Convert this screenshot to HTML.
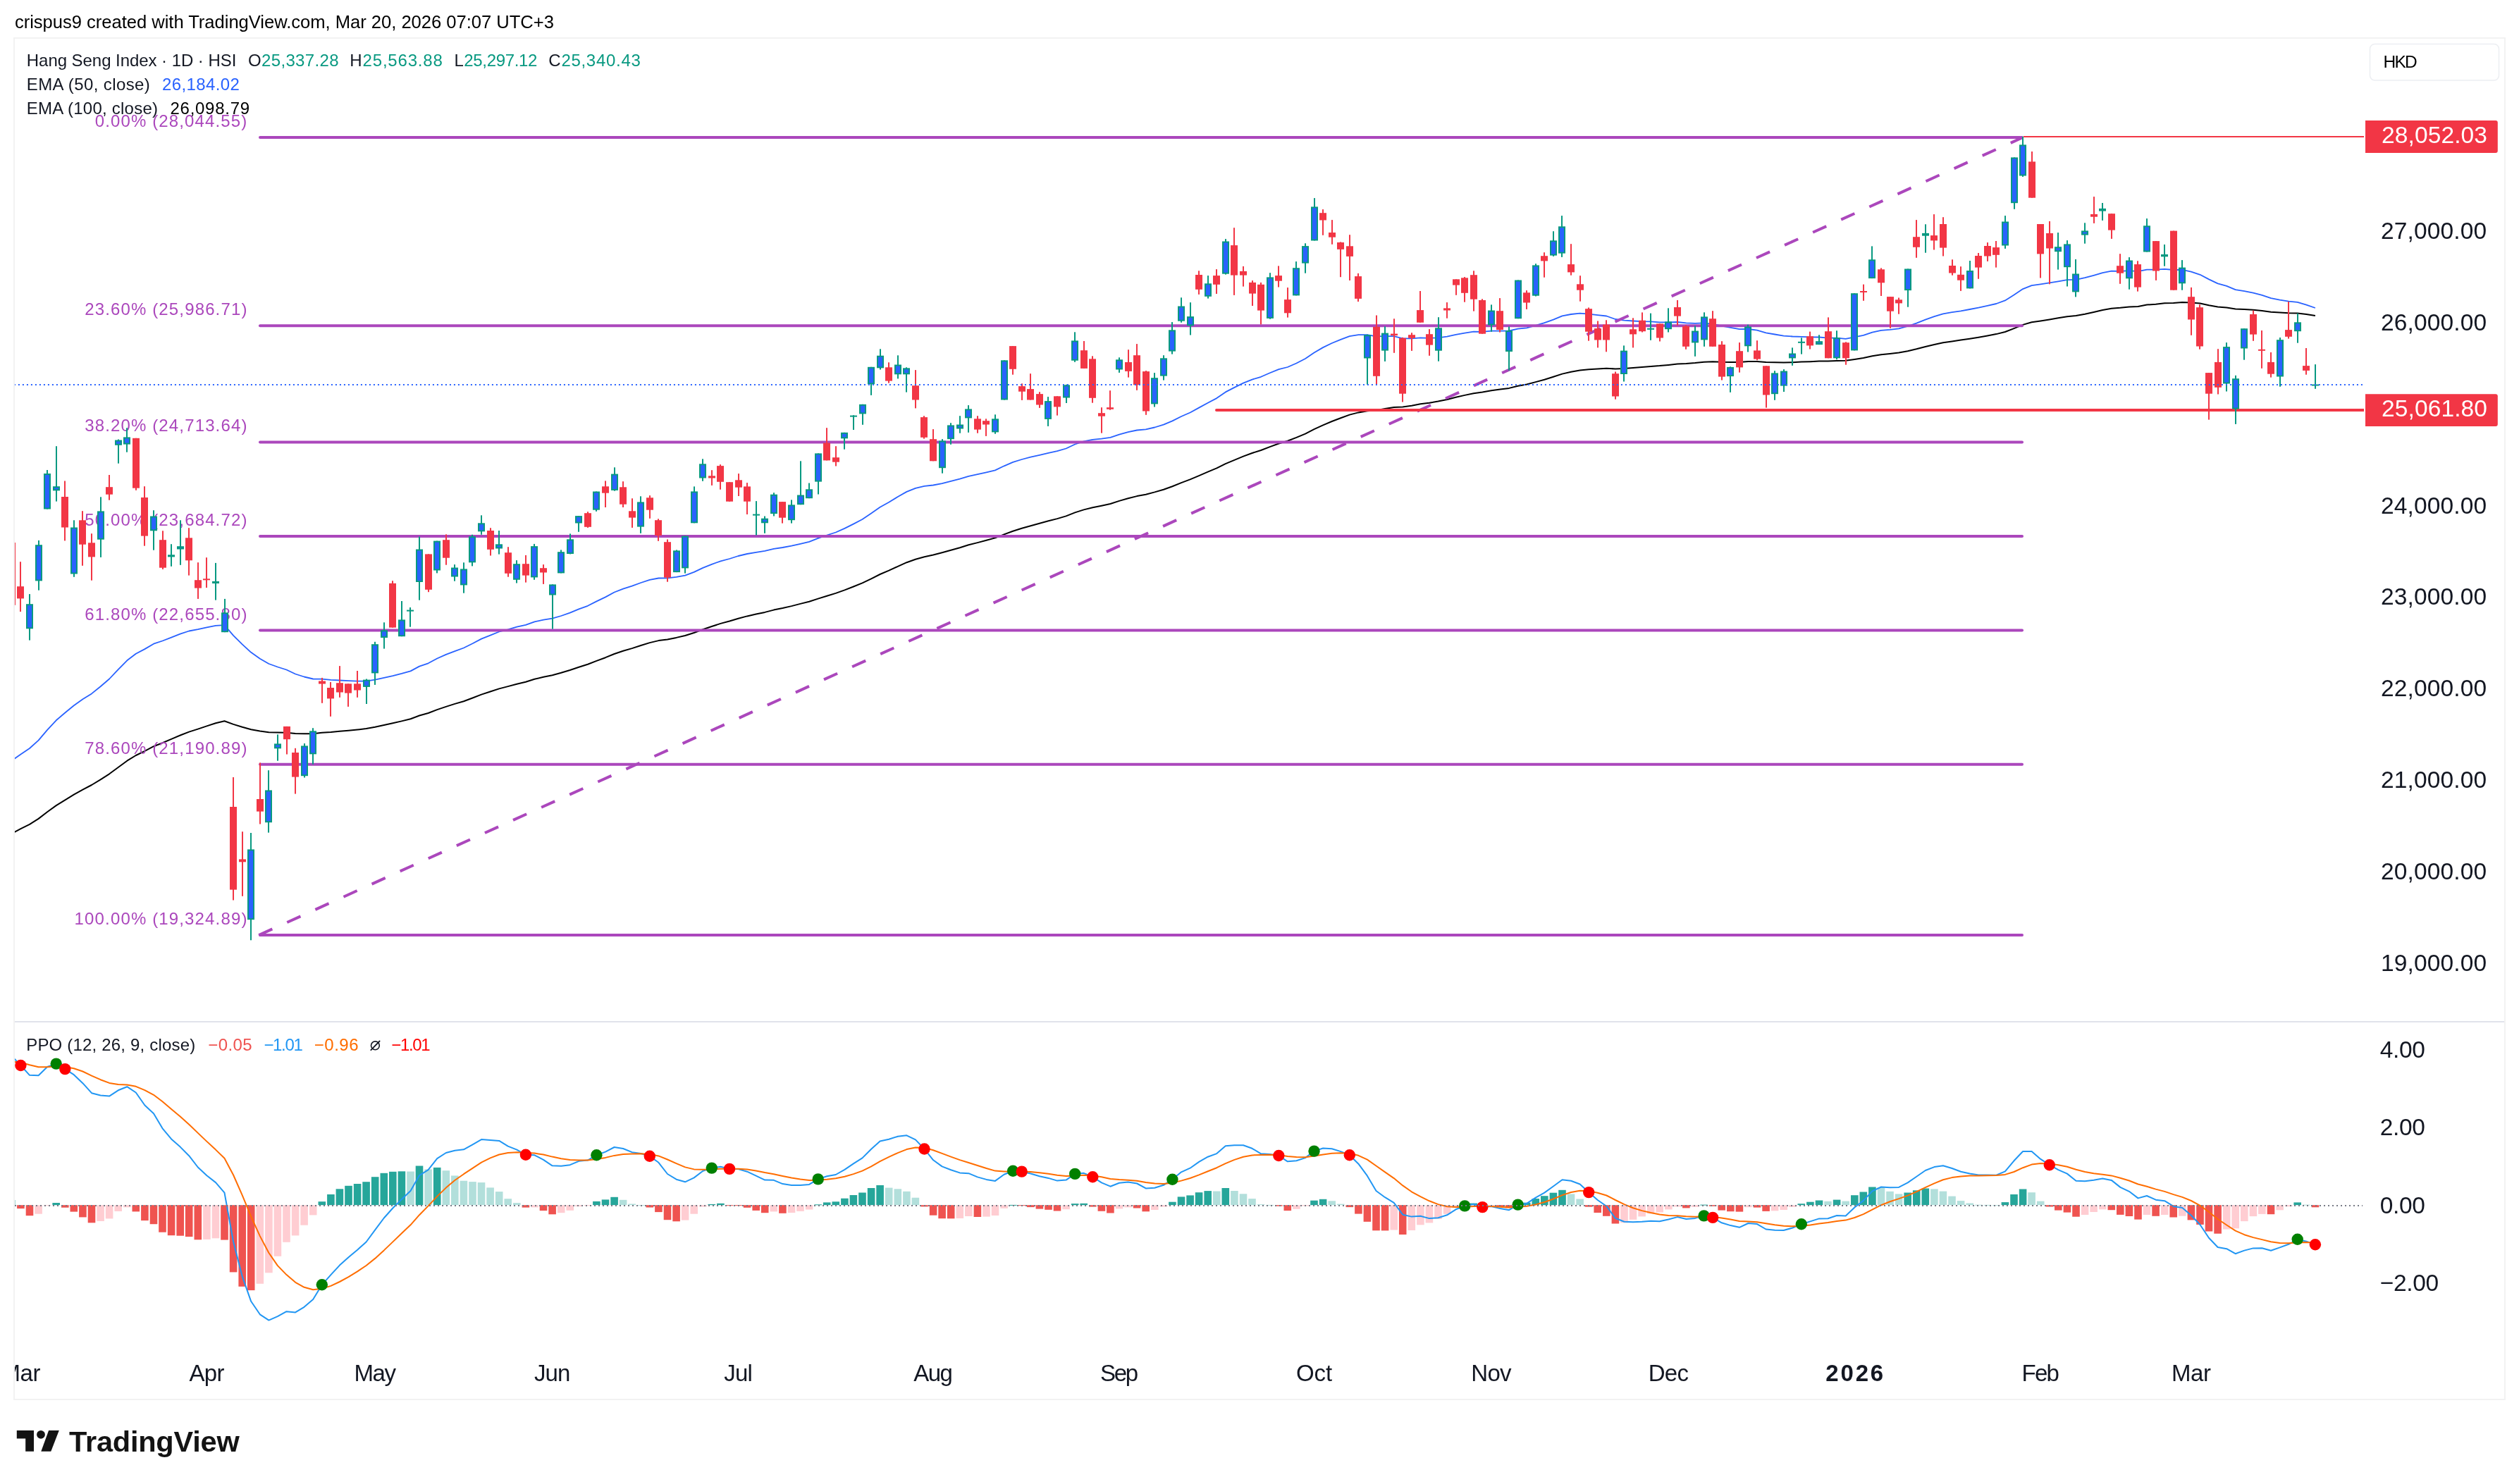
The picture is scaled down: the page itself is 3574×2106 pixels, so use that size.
<!DOCTYPE html>
<html><head><meta charset="utf-8"><style>
html,body{margin:0;padding:0;background:#ffffff;overflow:hidden;}
svg{display:block;font-family:"Liberation Sans",sans-serif;will-change:transform;}
</style></head><body>
<svg width="3574" height="2106" viewBox="0 0 3574 2106">
<rect width="3574" height="2106" fill="#ffffff"/>
<text x="20.9" y="39.9" font-size="25.6" fill="#000000" textLength="765.0" lengthAdjust="spacing">crispus9 created with TradingView.com, Mar 20, 2026 07:07 UTC+3</text>
<rect x="20" y="54" width="3534" height="1932" fill="none" stroke="#f2f2f2" stroke-width="2"/>
<rect x="21" y="1449" width="3532" height="2" fill="#e0e3eb"/>
<defs><clipPath id="cm"><rect x="21" y="55" width="3333" height="1394"/></clipPath><clipPath id="cp"><rect x="21" y="1451" width="3333" height="449"/></clipPath></defs>
<g clip-path="url(#cm)">
<polyline points="16.9,1182.7 29.4,1176.1 42.0,1169.8 54.6,1161.9 67.1,1152.2 79.7,1143.1 92.3,1135.3 104.8,1127.6 117.4,1120.6 130.0,1114.0 142.6,1106.3 155.1,1098.3 167.7,1089.0 180.3,1079.7 192.8,1072.0 205.4,1065.8 218.0,1059.2 230.5,1054.2 243.1,1048.9 255.7,1043.5 268.2,1038.6 280.8,1034.6 293.4,1030.4 306.0,1026.3 318.5,1023.2 331.1,1027.9 343.7,1031.8 356.2,1035.2 368.8,1037.5 381.4,1039.2 393.9,1039.5 406.5,1039.7 419.1,1041.0 431.6,1041.3 444.2,1041.2 456.8,1039.8 469.4,1038.9 481.9,1037.7 494.5,1036.7 507.1,1035.5 519.6,1034.1 532.2,1031.8 544.8,1029.0 557.3,1026.3 569.9,1023.4 582.5,1020.3 595.0,1015.5 607.6,1012.0 620.2,1007.1 632.8,1002.9 645.3,998.9 657.9,995.2 670.5,990.5 683.0,985.6 695.6,981.5 708.2,977.4 720.7,974.1 733.3,970.7 745.9,967.7 758.4,963.8 771.0,960.8 783.6,958.2 796.2,954.8 808.7,951.0 821.3,946.7 833.9,942.7 846.4,937.9 859.0,933.2 871.6,928.0 884.1,923.8 896.7,920.1 909.3,916.0 921.8,912.1 934.4,909.1 947.0,907.4 959.6,904.9 972.1,902.0 984.7,898.0 997.3,893.2 1009.8,889.0 1022.4,884.9 1035.0,881.5 1047.5,877.7 1060.1,874.4 1072.7,871.6 1085.2,868.9 1097.8,865.6 1110.4,863.0 1123.0,860.1 1135.5,856.9 1148.1,853.7 1160.7,849.6 1173.2,845.7 1185.8,841.9 1198.4,837.4 1210.9,832.5 1223.5,827.4 1236.1,821.3 1248.6,815.0 1261.2,809.6 1273.8,803.8 1286.4,798.2 1298.9,793.7 1311.5,790.2 1324.1,787.5 1336.6,784.3 1349.2,780.8 1361.8,777.2 1374.3,773.3 1386.9,770.1 1399.5,766.8 1412.0,763.4 1424.6,758.4 1437.2,753.7 1449.7,749.8 1462.3,746.2 1474.9,742.8 1487.5,739.3 1500.0,736.1 1512.6,732.4 1525.2,727.4 1537.7,723.4 1550.3,720.3 1562.9,717.7 1575.4,715.0 1588.0,710.9 1600.6,707.3 1613.1,704.1 1625.7,701.7 1638.3,698.4 1650.9,694.7 1663.4,690.2 1676.0,685.1 1688.6,680.4 1701.1,675.1 1713.7,669.7 1726.3,664.4 1738.8,658.1 1751.4,652.8 1764.0,647.6 1776.5,643.0 1789.1,639.0 1801.7,634.1 1814.3,629.5 1826.8,625.8 1839.4,620.9 1852.0,615.6 1864.5,609.2 1877.1,603.3 1889.7,598.0 1902.2,593.2 1914.8,588.6 1927.4,585.4 1939.9,583.2 1952.5,582.2 1965.1,580.1 1977.7,578.0 1990.2,577.6 2002.8,575.7 2015.4,573.3 2027.9,571.7 2040.5,569.6 2053.1,567.0 2065.6,563.8 2078.2,560.9 2090.8,558.2 2103.3,556.5 2115.9,554.2 2128.5,552.5 2141.1,550.9 2153.6,547.8 2166.2,545.5 2178.8,542.1 2191.3,538.7 2203.9,534.8 2216.5,530.6 2229.0,527.7 2241.6,525.4 2254.2,524.3 2266.7,523.5 2279.3,522.7 2291.9,523.5 2304.5,523.0 2317.0,522.0 2329.6,521.0 2342.2,519.9 2354.7,519.1 2367.3,517.9 2379.9,516.5 2392.4,516.0 2405.0,515.1 2417.6,513.8 2430.1,513.3 2442.7,513.8 2455.3,513.9 2467.9,514.1 2480.4,513.1 2493.0,513.0 2505.6,513.9 2518.1,514.2 2530.7,514.5 2543.3,514.2 2555.8,513.6 2568.4,513.2 2581.0,512.6 2593.5,512.5 2606.1,511.9 2618.7,511.8 2631.3,509.9 2643.8,508.0 2656.4,505.2 2669.0,503.2 2681.5,502.0 2694.1,500.6 2706.7,498.2 2719.2,495.3 2731.8,492.0 2744.4,489.0 2756.9,486.3 2769.5,484.4 2782.1,482.6 2794.7,480.7 2807.2,478.7 2819.8,476.4 2832.4,474.1 2844.9,471.0 2857.5,466.1 2870.1,460.9 2882.6,457.3 2895.2,455.4 2907.8,453.4 2920.3,451.3 2932.9,449.3 2945.5,448.1 2958.1,445.7 2970.6,442.9 2983.2,440.0 2995.8,437.8 3008.3,436.8 3020.9,435.5 3033.5,434.9 3046.0,432.6 3058.6,431.7 3071.2,430.3 3083.7,429.9 3096.3,428.9 3108.9,429.4 3121.5,430.6 3134.0,433.2 3146.6,435.5 3159.2,436.6 3171.7,438.6 3184.3,439.1 3196.9,439.8 3209.4,441.0 3222.0,442.8 3234.6,443.5 3247.1,444.2 3259.7,444.5 3272.3,446.1 3284.9,448.1" fill="none" stroke="#000000" stroke-width="2" stroke-linejoin="round"/>
<polyline points="16.9,1079.4 29.4,1070.4 42.0,1062.0 54.6,1050.7 67.1,1035.8 79.7,1022.3 92.3,1011.5 104.8,1001.2 117.4,992.3 130.0,984.4 142.6,974.2 155.1,963.5 167.7,950.2 180.3,937.3 192.8,927.7 205.4,921.1 218.0,913.7 230.5,909.5 243.1,904.7 255.7,899.6 268.2,895.5 280.8,893.2 293.4,890.4 306.0,887.8 318.5,887.1 331.1,901.8 343.7,914.4 356.2,925.8 368.8,934.7 381.4,942.0 393.9,946.5 406.5,950.5 419.1,956.5 431.6,960.5 444.2,963.5 456.8,963.7 469.4,964.8 481.9,965.5 494.5,966.2 507.1,966.7 519.6,966.7 532.2,964.6 544.8,961.8 557.3,959.1 569.9,955.9 582.5,952.4 595.0,945.6 607.6,941.3 620.2,934.5 632.8,928.9 645.3,924.1 657.9,919.5 670.5,913.3 683.0,906.6 695.6,901.6 708.2,896.5 720.7,893.3 733.3,889.7 745.9,886.8 758.4,882.4 771.0,879.7 783.6,877.7 796.2,874.0 808.7,869.7 821.3,864.3 833.9,859.8 846.4,853.4 859.0,847.4 871.6,840.5 884.1,835.6 896.7,831.7 909.3,827.0 921.8,822.9 934.4,820.5 947.0,820.4 959.6,818.9 972.1,816.6 984.7,811.9 997.3,805.9 1009.8,800.9 1022.4,796.3 1035.0,793.0 1047.5,789.0 1060.1,786.0 1072.7,783.8 1085.2,781.9 1097.8,778.8 1110.4,777.0 1123.0,774.7 1135.5,771.8 1148.1,768.8 1160.7,763.9 1173.2,759.5 1185.8,755.5 1198.4,749.9 1210.9,743.6 1223.5,737.0 1236.1,728.5 1248.6,719.7 1261.2,712.7 1273.8,705.0 1286.4,697.9 1298.9,692.8 1311.5,689.9 1324.1,688.5 1336.6,686.1 1349.2,682.8 1361.8,679.7 1374.3,675.8 1386.9,673.2 1399.5,670.4 1412.0,667.4 1424.6,661.3 1437.2,655.9 1449.7,652.0 1462.3,648.7 1474.9,645.8 1487.5,642.8 1500.0,640.2 1512.6,636.5 1525.2,630.5 1537.7,626.3 1550.3,623.9 1562.9,622.6 1575.4,620.9 1588.0,616.6 1600.6,613.1 1613.1,610.5 1625.7,609.4 1638.3,606.5 1650.9,602.7 1663.4,597.4 1676.0,591.0 1688.6,585.5 1701.1,578.6 1713.7,571.7 1726.3,565.1 1738.8,556.4 1751.4,549.9 1764.0,543.6 1776.5,538.6 1789.1,534.8 1801.7,529.3 1814.3,524.1 1826.8,521.0 1839.4,515.5 1852.0,509.0 1864.5,500.5 1877.1,493.1 1889.7,487.0 1902.2,481.8 1914.8,477.2 1927.4,475.1 1939.9,475.1 1952.5,477.4 1965.1,477.2 1977.7,477.2 1990.2,480.3 2002.8,480.3 2015.4,479.4 2027.9,479.8 2040.5,479.3 2053.1,477.7 2065.6,474.9 2078.2,472.6 2090.8,470.7 2103.3,470.8 2115.9,469.6 2128.5,469.6 2141.1,469.5 2153.6,466.7 2166.2,465.3 2178.8,461.8 2191.3,458.2 2203.9,453.6 2216.5,448.4 2229.0,446.0 2241.6,444.6 2254.2,445.7 2266.7,447.1 2279.3,448.5 2291.9,453.0 2304.5,454.7 2317.0,455.5 2329.6,456.1 2342.2,456.4 2354.7,457.3 2367.3,457.3 2379.9,457.0 2392.4,458.3 2405.0,458.8 2417.6,458.4 2430.1,459.7 2442.7,462.7 2455.3,464.9 2467.9,467.1 2480.4,467.0 2493.0,468.7 2505.6,472.3 2518.1,474.5 2530.7,476.6 2543.3,477.5 2555.8,477.8 2568.4,478.3 2581.0,478.5 2593.5,479.7 2606.1,479.7 2618.7,480.8 2631.3,478.3 2643.8,475.8 2656.4,471.6 2669.0,468.8 2681.5,467.8 2694.1,466.3 2706.7,463.0 2719.2,458.6 2731.8,453.6 2744.4,449.2 2756.9,445.3 2769.5,443.1 2782.1,441.3 2794.7,439.0 2807.2,436.7 2819.8,433.8 2832.4,431.0 2844.9,426.4 2857.5,418.5 2870.1,410.1 2882.6,405.1 2895.2,403.3 2907.8,401.3 2920.3,399.3 2932.9,397.2 2945.5,396.9 2958.1,394.2 2970.6,390.8 2983.2,387.1 2995.8,384.7 3008.3,384.8 3020.9,384.2 3033.5,385.1 3046.0,382.6 3058.6,382.6 3071.2,381.8 3083.7,383.0 3096.3,382.8 3108.9,385.6 3121.5,389.8 3134.0,396.4 3146.6,402.4 3159.2,405.9 3171.7,411.1 3184.3,413.2 3196.9,415.6 3209.4,418.9 3222.0,423.2 3234.6,425.6 3247.1,427.6 3259.7,428.8 3272.3,432.6 3284.9,437.0" fill="none" stroke="#2962ff" stroke-width="1.8" stroke-linejoin="round"/>
<line x1="369.0" y1="195.0" x2="2869.0" y2="195.0" stroke="#ab47bc" stroke-width="4" stroke-linecap="round"/>
<line x1="369.0" y1="462.2" x2="2869.0" y2="462.2" stroke="#ab47bc" stroke-width="4" stroke-linecap="round"/>
<line x1="369.0" y1="627.4" x2="2869.0" y2="627.4" stroke="#ab47bc" stroke-width="4" stroke-linecap="round"/>
<line x1="369.0" y1="761.0" x2="2869.0" y2="761.0" stroke="#ab47bc" stroke-width="4" stroke-linecap="round"/>
<line x1="369.0" y1="894.6" x2="2869.0" y2="894.6" stroke="#ab47bc" stroke-width="4" stroke-linecap="round"/>
<line x1="369.0" y1="1084.8" x2="2869.0" y2="1084.8" stroke="#ab47bc" stroke-width="4" stroke-linecap="round"/>
<line x1="369.0" y1="1327.1" x2="2869.0" y2="1327.1" stroke="#ab47bc" stroke-width="4" stroke-linecap="round"/>
<line x1="367.2" y1="1327.1" x2="2870.0" y2="195.0" stroke="#ab47bc" stroke-width="4" stroke-dasharray="21 23"/>
<line x1="2871" y1="194" x2="3354" y2="194" stroke="#f23645" stroke-width="2"/>
<line x1="1726" y1="582" x2="3354" y2="582" stroke="#f23645" stroke-width="4" stroke-linecap="round"/>
</g>
<text x="134.7" y="180.0" font-size="24" fill="#ab47bc" textLength="215.6" lengthAdjust="spacing">0.00% (28,044.55)</text>
<text x="120.2" y="447.2" font-size="24" fill="#ab47bc" textLength="230.2" lengthAdjust="spacing">23.60% (25,986.71)</text>
<text x="120.2" y="612.4" font-size="24" fill="#ab47bc" textLength="230.2" lengthAdjust="spacing">38.20% (24,713.64)</text>
<text x="120.2" y="746.0" font-size="24" fill="#ab47bc" textLength="230.2" lengthAdjust="spacing">50.00% (23,684.72)</text>
<text x="120.2" y="879.6" font-size="24" fill="#ab47bc" textLength="230.2" lengthAdjust="spacing">61.80% (22,655.80)</text>
<text x="120.2" y="1069.8" font-size="24" fill="#ab47bc" textLength="230.2" lengthAdjust="spacing">78.60% (21,190.89)</text>
<text x="105.6" y="1312.1" font-size="24" fill="#ab47bc" textLength="244.8" lengthAdjust="spacing">100.00% (19,324.89)</text>
<g clip-path="url(#cm)">
<rect x="16" y="770.0" width="2" height="88.8" fill="#f23645"/>
<rect x="12" y="770.0" width="10" height="88.8" fill="#f23645"/>
<rect x="28" y="797.2" width="2" height="70.9" fill="#f23645"/>
<rect x="24" y="832.2" width="10" height="17.2" fill="#f23645"/>
<rect x="41" y="843.1" width="2" height="65.5" fill="#089981"/>
<rect x="37" y="857.2" width="10" height="35.1" fill="#089981"/>
<rect x="39" y="859.2" width="6" height="31.1" fill="#2962ff"/>
<rect x="54" y="766.9" width="2" height="70.8" fill="#089981"/>
<rect x="50" y="773.2" width="10" height="51.2" fill="#089981"/>
<rect x="52" y="775.2" width="6" height="47.2" fill="#2962ff"/>
<rect x="66" y="667.0" width="2" height="55.5" fill="#089981"/>
<rect x="62" y="672.0" width="10" height="50.5" fill="#089981"/>
<rect x="64" y="674.0" width="6" height="46.5" fill="#2962ff"/>
<rect x="79" y="633.2" width="2" height="78.4" fill="#089981"/>
<rect x="75" y="690.2" width="10" height="6.1" fill="#089981"/>
<rect x="77" y="692.2" width="6" height="2.1" fill="#2962ff"/>
<rect x="91" y="682.5" width="2" height="84.9" fill="#f23645"/>
<rect x="87" y="705.0" width="10" height="43.5" fill="#f23645"/>
<rect x="104" y="738.3" width="2" height="80.5" fill="#089981"/>
<rect x="100" y="748.5" width="10" height="66.0" fill="#089981"/>
<rect x="102" y="750.5" width="6" height="62.0" fill="#2962ff"/>
<rect x="116" y="725.2" width="2" height="77.6" fill="#f23645"/>
<rect x="112" y="738.3" width="10" height="34.4" fill="#f23645"/>
<rect x="129" y="757.2" width="2" height="66.5" fill="#f23645"/>
<rect x="125" y="770.3" width="10" height="20.1" fill="#f23645"/>
<rect x="142" y="705.3" width="2" height="85.6" fill="#089981"/>
<rect x="138" y="725.4" width="10" height="40.3" fill="#089981"/>
<rect x="140" y="727.4" width="6" height="36.3" fill="#2962ff"/>
<rect x="154" y="674.0" width="2" height="35.7" fill="#f23645"/>
<rect x="150" y="691.2" width="10" height="10.5" fill="#f23645"/>
<rect x="167" y="623.5" width="2" height="34.2" fill="#089981"/>
<rect x="163" y="624.5" width="10" height="7.3" fill="#089981"/>
<rect x="165" y="626.5" width="6" height="3.3" fill="#2962ff"/>
<rect x="179" y="607.3" width="2" height="34.4" fill="#089981"/>
<rect x="175" y="620.4" width="10" height="10.2" fill="#089981"/>
<rect x="177" y="622.4" width="6" height="6.2" fill="#2962ff"/>
<rect x="192" y="621.8" width="2" height="74.0" fill="#f23645"/>
<rect x="188" y="621.8" width="10" height="70.9" fill="#f23645"/>
<rect x="204" y="690.2" width="2" height="84.5" fill="#f23645"/>
<rect x="200" y="706.0" width="10" height="54.6" fill="#f23645"/>
<rect x="217" y="724.2" width="2" height="56.5" fill="#089981"/>
<rect x="213" y="732.5" width="10" height="20.8" fill="#089981"/>
<rect x="215" y="734.5" width="6" height="16.8" fill="#2962ff"/>
<rect x="230" y="753.3" width="2" height="54.6" fill="#f23645"/>
<rect x="226" y="766.2" width="10" height="39.5" fill="#f23645"/>
<rect x="242" y="772.2" width="2" height="31.6" fill="#089981"/>
<rect x="238" y="787.3" width="10" height="3.1" fill="#089981"/>
<rect x="255" y="738.3" width="2" height="63.5" fill="#089981"/>
<rect x="251" y="775.2" width="10" height="4.3" fill="#089981"/>
<rect x="253" y="777.2" width="6" height="0.3" fill="#2962ff"/>
<rect x="267" y="749.2" width="2" height="67.4" fill="#f23645"/>
<rect x="263" y="763.3" width="10" height="32.0" fill="#f23645"/>
<rect x="280" y="798.2" width="2" height="51.7" fill="#f23645"/>
<rect x="276" y="823.2" width="10" height="11.4" fill="#f23645"/>
<rect x="292" y="791.2" width="2" height="42.9" fill="#f23645"/>
<rect x="288" y="821.3" width="10" height="2.0" fill="#f23645"/>
<rect x="305" y="798.9" width="2" height="52.7" fill="#089981"/>
<rect x="301" y="824.9" width="10" height="3.1" fill="#089981"/>
<rect x="318" y="849.9" width="2" height="47.3" fill="#089981"/>
<rect x="314" y="869.3" width="10" height="27.9" fill="#089981"/>
<rect x="316" y="871.3" width="6" height="23.9" fill="#2962ff"/>
<rect x="330" y="1103.0" width="2" height="174.5" fill="#f23645"/>
<rect x="326" y="1145.0" width="10" height="117.6" fill="#f23645"/>
<rect x="343" y="1180.2" width="2" height="91.6" fill="#f23645"/>
<rect x="339" y="1219.4" width="10" height="3.9" fill="#f23645"/>
<rect x="355" y="1182.0" width="2" height="152.3" fill="#089981"/>
<rect x="351" y="1205.4" width="10" height="99.8" fill="#089981"/>
<rect x="353" y="1207.4" width="6" height="95.8" fill="#2962ff"/>
<rect x="368" y="1082.4" width="2" height="87.1" fill="#f23645"/>
<rect x="364" y="1134.0" width="10" height="17.6" fill="#f23645"/>
<rect x="380" y="1093.2" width="2" height="88.4" fill="#089981"/>
<rect x="376" y="1121.4" width="10" height="45.8" fill="#089981"/>
<rect x="378" y="1123.4" width="6" height="41.8" fill="#2962ff"/>
<rect x="393" y="1042.4" width="2" height="37.3" fill="#089981"/>
<rect x="389" y="1055.4" width="10" height="6.9" fill="#089981"/>
<rect x="391" y="1057.4" width="6" height="2.9" fill="#2962ff"/>
<rect x="406" y="1030.9" width="2" height="39.6" fill="#f23645"/>
<rect x="402" y="1030.9" width="10" height="18.3" fill="#f23645"/>
<rect x="418" y="1061.8" width="2" height="64.8" fill="#f23645"/>
<rect x="414" y="1068.0" width="10" height="34.6" fill="#f23645"/>
<rect x="431" y="1055.0" width="2" height="48.5" fill="#089981"/>
<rect x="427" y="1058.4" width="10" height="42.8" fill="#089981"/>
<rect x="429" y="1060.4" width="6" height="38.8" fill="#2962ff"/>
<rect x="443" y="1033.2" width="2" height="51.5" fill="#089981"/>
<rect x="439" y="1037.3" width="10" height="33.0" fill="#089981"/>
<rect x="441" y="1039.3" width="6" height="29.0" fill="#2962ff"/>
<rect x="456" y="961.9" width="2" height="35.9" fill="#f23645"/>
<rect x="452" y="966.5" width="10" height="4.0" fill="#f23645"/>
<rect x="468" y="968.0" width="2" height="48.8" fill="#f23645"/>
<rect x="464" y="976.0" width="10" height="15.4" fill="#f23645"/>
<rect x="481" y="945.1" width="2" height="44.7" fill="#f23645"/>
<rect x="477" y="969.2" width="10" height="13.3" fill="#f23645"/>
<rect x="493" y="970.3" width="2" height="32.6" fill="#f23645"/>
<rect x="489" y="970.3" width="10" height="13.3" fill="#f23645"/>
<rect x="506" y="952.0" width="2" height="37.8" fill="#f23645"/>
<rect x="502" y="970.3" width="10" height="9.2" fill="#f23645"/>
<rect x="519" y="963.5" width="2" height="35.5" fill="#089981"/>
<rect x="515" y="964.6" width="10" height="10.3" fill="#089981"/>
<rect x="517" y="966.6" width="6" height="6.3" fill="#2962ff"/>
<rect x="531" y="910.8" width="2" height="61.1" fill="#089981"/>
<rect x="527" y="914.2" width="10" height="41.2" fill="#089981"/>
<rect x="529" y="916.2" width="6" height="37.2" fill="#2962ff"/>
<rect x="544" y="883.3" width="2" height="37.3" fill="#089981"/>
<rect x="540" y="894.3" width="10" height="10.7" fill="#089981"/>
<rect x="542" y="896.3" width="6" height="6.7" fill="#2962ff"/>
<rect x="556" y="824.2" width="2" height="66.4" fill="#f23645"/>
<rect x="552" y="827.8" width="10" height="62.8" fill="#f23645"/>
<rect x="569" y="853.0" width="2" height="50.2" fill="#089981"/>
<rect x="565" y="879.4" width="10" height="23.8" fill="#089981"/>
<rect x="567" y="881.4" width="6" height="19.8" fill="#2962ff"/>
<rect x="581" y="862.0" width="2" height="27.7" fill="#089981"/>
<rect x="577" y="865.6" width="10" height="2.0" fill="#089981"/>
<rect x="594" y="761.4" width="2" height="90.3" fill="#089981"/>
<rect x="590" y="779.5" width="10" height="46.5" fill="#089981"/>
<rect x="592" y="781.5" width="6" height="42.5" fill="#2962ff"/>
<rect x="607" y="786.4" width="2" height="53.8" fill="#f23645"/>
<rect x="603" y="786.4" width="10" height="50.4" fill="#f23645"/>
<rect x="619" y="767.6" width="2" height="45.8" fill="#089981"/>
<rect x="615" y="767.6" width="10" height="41.9" fill="#089981"/>
<rect x="617" y="769.6" width="6" height="37.9" fill="#2962ff"/>
<rect x="632" y="758.3" width="2" height="43.4" fill="#f23645"/>
<rect x="628" y="766.2" width="10" height="25.5" fill="#f23645"/>
<rect x="644" y="801.1" width="2" height="23.6" fill="#089981"/>
<rect x="640" y="805.5" width="10" height="13.0" fill="#089981"/>
<rect x="642" y="807.5" width="6" height="9.0" fill="#2962ff"/>
<rect x="657" y="798.3" width="2" height="43.4" fill="#089981"/>
<rect x="653" y="807.4" width="10" height="23.0" fill="#089981"/>
<rect x="655" y="809.4" width="6" height="19.0" fill="#2962ff"/>
<rect x="669" y="758.7" width="2" height="44.7" fill="#089981"/>
<rect x="665" y="761.1" width="10" height="37.2" fill="#089981"/>
<rect x="667" y="763.1" width="6" height="33.2" fill="#2962ff"/>
<rect x="682" y="731.3" width="2" height="27.4" fill="#089981"/>
<rect x="678" y="742.3" width="10" height="12.0" fill="#089981"/>
<rect x="680" y="744.3" width="6" height="8.0" fill="#2962ff"/>
<rect x="695" y="749.2" width="2" height="39.3" fill="#f23645"/>
<rect x="691" y="753.0" width="10" height="26.8" fill="#f23645"/>
<rect x="707" y="753.0" width="2" height="33.6" fill="#089981"/>
<rect x="703" y="772.3" width="10" height="6.2" fill="#089981"/>
<rect x="705" y="774.3" width="6" height="2.2" fill="#2962ff"/>
<rect x="720" y="776.2" width="2" height="42.5" fill="#f23645"/>
<rect x="716" y="784.2" width="10" height="29.6" fill="#f23645"/>
<rect x="732" y="795.1" width="2" height="32.4" fill="#089981"/>
<rect x="728" y="800.2" width="10" height="22.6" fill="#089981"/>
<rect x="730" y="802.2" width="6" height="18.6" fill="#2962ff"/>
<rect x="745" y="787.9" width="2" height="38.7" fill="#f23645"/>
<rect x="741" y="800.2" width="10" height="16.4" fill="#f23645"/>
<rect x="757" y="771.9" width="2" height="50.9" fill="#089981"/>
<rect x="753" y="775.1" width="10" height="44.3" fill="#089981"/>
<rect x="755" y="777.1" width="6" height="40.3" fill="#2962ff"/>
<rect x="770" y="801.1" width="2" height="27.8" fill="#f23645"/>
<rect x="766" y="806.2" width="10" height="6.3" fill="#f23645"/>
<rect x="783" y="829.4" width="2" height="63.2" fill="#089981"/>
<rect x="779" y="829.4" width="10" height="15.1" fill="#089981"/>
<rect x="781" y="831.4" width="6" height="11.1" fill="#2962ff"/>
<rect x="795" y="780.4" width="2" height="33.0" fill="#089981"/>
<rect x="791" y="783.2" width="10" height="30.2" fill="#089981"/>
<rect x="793" y="785.2" width="6" height="26.2" fill="#2962ff"/>
<rect x="808" y="757.4" width="2" height="29.0" fill="#089981"/>
<rect x="804" y="765.3" width="10" height="20.7" fill="#089981"/>
<rect x="806" y="767.3" width="6" height="16.7" fill="#2962ff"/>
<rect x="820" y="732.1" width="2" height="22.7" fill="#089981"/>
<rect x="816" y="732.1" width="10" height="10.4" fill="#089981"/>
<rect x="818" y="734.1" width="6" height="6.4" fill="#2962ff"/>
<rect x="833" y="726.2" width="2" height="22.7" fill="#f23645"/>
<rect x="829" y="728.2" width="10" height="19.6" fill="#f23645"/>
<rect x="845" y="697.5" width="2" height="28.3" fill="#089981"/>
<rect x="841" y="697.5" width="10" height="26.2" fill="#089981"/>
<rect x="843" y="699.5" width="6" height="22.2" fill="#2962ff"/>
<rect x="858" y="682.4" width="2" height="37.6" fill="#f23645"/>
<rect x="854" y="690.3" width="10" height="9.4" fill="#f23645"/>
<rect x="871" y="663.3" width="2" height="33.4" fill="#089981"/>
<rect x="867" y="672.6" width="10" height="23.3" fill="#089981"/>
<rect x="869" y="674.6" width="6" height="19.3" fill="#2962ff"/>
<rect x="883" y="683.2" width="2" height="36.8" fill="#f23645"/>
<rect x="879" y="691.3" width="10" height="24.4" fill="#f23645"/>
<rect x="896" y="707.3" width="2" height="41.6" fill="#f23645"/>
<rect x="892" y="725.3" width="10" height="9.3" fill="#f23645"/>
<rect x="908" y="704.3" width="2" height="52.5" fill="#089981"/>
<rect x="904" y="712.4" width="10" height="35.2" fill="#089981"/>
<rect x="906" y="714.4" width="6" height="31.2" fill="#2962ff"/>
<rect x="921" y="703.1" width="2" height="32.7" fill="#f23645"/>
<rect x="917" y="706.3" width="10" height="17.4" fill="#f23645"/>
<rect x="933" y="736.3" width="2" height="31.5" fill="#f23645"/>
<rect x="929" y="738.2" width="10" height="21.8" fill="#f23645"/>
<rect x="946" y="765.5" width="2" height="60.2" fill="#f23645"/>
<rect x="942" y="769.2" width="10" height="50.4" fill="#f23645"/>
<rect x="959" y="780.4" width="2" height="31.7" fill="#089981"/>
<rect x="955" y="781.3" width="10" height="30.8" fill="#089981"/>
<rect x="957" y="783.3" width="6" height="26.8" fill="#2962ff"/>
<rect x="971" y="760.6" width="2" height="53.0" fill="#089981"/>
<rect x="967" y="760.6" width="10" height="45.8" fill="#089981"/>
<rect x="969" y="762.6" width="6" height="41.8" fill="#2962ff"/>
<rect x="984" y="690.4" width="2" height="51.9" fill="#089981"/>
<rect x="980" y="697.4" width="10" height="44.9" fill="#089981"/>
<rect x="982" y="699.4" width="6" height="40.9" fill="#2962ff"/>
<rect x="996" y="651.3" width="2" height="31.5" fill="#089981"/>
<rect x="992" y="658.3" width="10" height="20.2" fill="#089981"/>
<rect x="994" y="660.3" width="6" height="16.2" fill="#2962ff"/>
<rect x="1009" y="667.2" width="2" height="21.7" fill="#f23645"/>
<rect x="1005" y="675.3" width="10" height="3.2" fill="#f23645"/>
<rect x="1021" y="659.2" width="2" height="35.5" fill="#f23645"/>
<rect x="1017" y="661.1" width="10" height="22.7" fill="#f23645"/>
<rect x="1034" y="684.2" width="2" height="27.5" fill="#f23645"/>
<rect x="1030" y="684.2" width="10" height="27.5" fill="#f23645"/>
<rect x="1047" y="672.1" width="2" height="31.9" fill="#f23645"/>
<rect x="1043" y="681.3" width="10" height="10.4" fill="#f23645"/>
<rect x="1059" y="685.1" width="2" height="44.9" fill="#f23645"/>
<rect x="1055" y="690.4" width="10" height="21.3" fill="#f23645"/>
<rect x="1072" y="711.1" width="2" height="48.5" fill="#089981"/>
<rect x="1068" y="729.6" width="10" height="2.0" fill="#089981"/>
<rect x="1084" y="732.5" width="2" height="24.3" fill="#089981"/>
<rect x="1080" y="735.7" width="10" height="6.6" fill="#089981"/>
<rect x="1082" y="737.7" width="6" height="2.6" fill="#2962ff"/>
<rect x="1097" y="699.2" width="2" height="33.3" fill="#089981"/>
<rect x="1093" y="701.7" width="10" height="27.4" fill="#089981"/>
<rect x="1095" y="703.7" width="6" height="23.4" fill="#2962ff"/>
<rect x="1109" y="712.1" width="2" height="30.5" fill="#f23645"/>
<rect x="1105" y="712.1" width="10" height="22.6" fill="#f23645"/>
<rect x="1122" y="709.4" width="2" height="33.2" fill="#089981"/>
<rect x="1118" y="716.4" width="10" height="21.8" fill="#089981"/>
<rect x="1120" y="718.4" width="6" height="17.8" fill="#2962ff"/>
<rect x="1135" y="654.3" width="2" height="61.9" fill="#089981"/>
<rect x="1131" y="702.5" width="10" height="13.7" fill="#089981"/>
<rect x="1133" y="704.5" width="6" height="9.7" fill="#2962ff"/>
<rect x="1147" y="685.5" width="2" height="21.7" fill="#089981"/>
<rect x="1143" y="694.3" width="10" height="12.9" fill="#089981"/>
<rect x="1145" y="696.3" width="6" height="8.9" fill="#2962ff"/>
<rect x="1160" y="643.4" width="2" height="58.1" fill="#089981"/>
<rect x="1156" y="643.4" width="10" height="40.2" fill="#089981"/>
<rect x="1158" y="645.4" width="6" height="36.2" fill="#2962ff"/>
<rect x="1172" y="607.2" width="2" height="46.2" fill="#f23645"/>
<rect x="1168" y="628.5" width="10" height="24.9" fill="#f23645"/>
<rect x="1185" y="633.2" width="2" height="28.3" fill="#f23645"/>
<rect x="1181" y="649.2" width="10" height="6.5" fill="#f23645"/>
<rect x="1197" y="613.8" width="2" height="23.9" fill="#089981"/>
<rect x="1193" y="613.8" width="10" height="8.5" fill="#089981"/>
<rect x="1195" y="615.8" width="6" height="4.5" fill="#2962ff"/>
<rect x="1210" y="589.2" width="2" height="20.8" fill="#089981"/>
<rect x="1206" y="589.6" width="10" height="2.0" fill="#089981"/>
<rect x="1223" y="573.8" width="2" height="29.0" fill="#089981"/>
<rect x="1219" y="573.8" width="10" height="13.6" fill="#089981"/>
<rect x="1221" y="575.8" width="6" height="9.6" fill="#2962ff"/>
<rect x="1235" y="520.8" width="2" height="40.1" fill="#089981"/>
<rect x="1231" y="520.8" width="10" height="24.5" fill="#089981"/>
<rect x="1233" y="522.8" width="6" height="20.5" fill="#2962ff"/>
<rect x="1248" y="495.3" width="2" height="29.2" fill="#089981"/>
<rect x="1244" y="504.7" width="10" height="17.6" fill="#089981"/>
<rect x="1246" y="506.7" width="6" height="13.6" fill="#2962ff"/>
<rect x="1260" y="514.3" width="2" height="29.3" fill="#f23645"/>
<rect x="1256" y="521.3" width="10" height="19.3" fill="#f23645"/>
<rect x="1273" y="504.3" width="2" height="33.1" fill="#089981"/>
<rect x="1269" y="517.5" width="10" height="13.8" fill="#089981"/>
<rect x="1271" y="519.5" width="6" height="9.8" fill="#2962ff"/>
<rect x="1285" y="521.3" width="2" height="35.3" fill="#089981"/>
<rect x="1281" y="522.3" width="10" height="9.0" fill="#089981"/>
<rect x="1283" y="524.3" width="6" height="5.0" fill="#2962ff"/>
<rect x="1298" y="525.1" width="2" height="54.3" fill="#f23645"/>
<rect x="1294" y="547.2" width="10" height="20.3" fill="#f23645"/>
<rect x="1310" y="590.2" width="2" height="32.4" fill="#f23645"/>
<rect x="1306" y="592.1" width="10" height="28.7" fill="#f23645"/>
<rect x="1323" y="609.1" width="2" height="45.2" fill="#f23645"/>
<rect x="1319" y="623.2" width="10" height="31.1" fill="#f23645"/>
<rect x="1336" y="623.2" width="2" height="48.5" fill="#089981"/>
<rect x="1332" y="625.5" width="10" height="38.7" fill="#089981"/>
<rect x="1334" y="627.5" width="6" height="34.7" fill="#2962ff"/>
<rect x="1348" y="600.2" width="2" height="30.6" fill="#089981"/>
<rect x="1344" y="603.4" width="10" height="19.8" fill="#089981"/>
<rect x="1346" y="605.4" width="6" height="15.8" fill="#2962ff"/>
<rect x="1361" y="590.2" width="2" height="24.5" fill="#089981"/>
<rect x="1357" y="602.5" width="10" height="6.0" fill="#089981"/>
<rect x="1359" y="604.5" width="6" height="2.0" fill="#2962ff"/>
<rect x="1373" y="575.1" width="2" height="38.7" fill="#089981"/>
<rect x="1369" y="580.4" width="10" height="13.0" fill="#089981"/>
<rect x="1371" y="582.4" width="6" height="9.0" fill="#2962ff"/>
<rect x="1386" y="590.2" width="2" height="24.5" fill="#f23645"/>
<rect x="1382" y="594.3" width="10" height="15.3" fill="#f23645"/>
<rect x="1398" y="594.3" width="2" height="24.6" fill="#f23645"/>
<rect x="1394" y="597.2" width="10" height="5.3" fill="#f23645"/>
<rect x="1411" y="588.3" width="2" height="27.4" fill="#089981"/>
<rect x="1407" y="594.3" width="10" height="19.1" fill="#089981"/>
<rect x="1409" y="596.3" width="6" height="15.1" fill="#2962ff"/>
<rect x="1424" y="511.3" width="2" height="56.2" fill="#089981"/>
<rect x="1420" y="511.3" width="10" height="56.2" fill="#089981"/>
<rect x="1422" y="513.3" width="6" height="52.2" fill="#2962ff"/>
<rect x="1436" y="491.1" width="2" height="40.6" fill="#f23645"/>
<rect x="1432" y="491.1" width="10" height="32.7" fill="#f23645"/>
<rect x="1449" y="544.3" width="2" height="23.6" fill="#f23645"/>
<rect x="1445" y="548.1" width="10" height="7.6" fill="#f23645"/>
<rect x="1461" y="530.2" width="2" height="37.3" fill="#f23645"/>
<rect x="1457" y="552.1" width="10" height="15.4" fill="#f23645"/>
<rect x="1474" y="556.2" width="2" height="22.7" fill="#f23645"/>
<rect x="1470" y="559.1" width="10" height="15.4" fill="#f23645"/>
<rect x="1486" y="563.1" width="2" height="41.8" fill="#089981"/>
<rect x="1482" y="569.1" width="10" height="25.8" fill="#089981"/>
<rect x="1484" y="571.1" width="6" height="21.8" fill="#2962ff"/>
<rect x="1499" y="562.3" width="2" height="27.3" fill="#f23645"/>
<rect x="1495" y="562.3" width="10" height="15.1" fill="#f23645"/>
<rect x="1512" y="545.7" width="2" height="26.3" fill="#089981"/>
<rect x="1508" y="546.3" width="10" height="18.2" fill="#089981"/>
<rect x="1510" y="548.3" width="6" height="14.2" fill="#2962ff"/>
<rect x="1524" y="471.3" width="2" height="42.5" fill="#089981"/>
<rect x="1520" y="483.4" width="10" height="28.3" fill="#089981"/>
<rect x="1522" y="485.4" width="6" height="24.3" fill="#2962ff"/>
<rect x="1537" y="484.0" width="2" height="38.9" fill="#f23645"/>
<rect x="1533" y="497.2" width="10" height="25.7" fill="#f23645"/>
<rect x="1549" y="505.3" width="2" height="66.4" fill="#f23645"/>
<rect x="1545" y="509.3" width="10" height="55.5" fill="#f23645"/>
<rect x="1562" y="578.2" width="2" height="36.4" fill="#f23645"/>
<rect x="1558" y="586.2" width="10" height="4.5" fill="#f23645"/>
<rect x="1574" y="554.2" width="2" height="27.6" fill="#f23645"/>
<rect x="1570" y="578.2" width="10" height="2.6" fill="#f23645"/>
<rect x="1587" y="507.3" width="2" height="21.6" fill="#089981"/>
<rect x="1583" y="510.3" width="10" height="14.2" fill="#089981"/>
<rect x="1585" y="512.3" width="6" height="10.2" fill="#2962ff"/>
<rect x="1600" y="496.2" width="2" height="39.4" fill="#f23645"/>
<rect x="1596" y="514.0" width="10" height="12.9" fill="#f23645"/>
<rect x="1612" y="488.1" width="2" height="65.7" fill="#f23645"/>
<rect x="1608" y="504.2" width="10" height="42.1" fill="#f23645"/>
<rect x="1625" y="526.1" width="2" height="62.7" fill="#f23645"/>
<rect x="1621" y="527.1" width="10" height="56.4" fill="#f23645"/>
<rect x="1637" y="529.1" width="2" height="48.4" fill="#089981"/>
<rect x="1633" y="536.2" width="10" height="37.2" fill="#089981"/>
<rect x="1635" y="538.2" width="6" height="33.2" fill="#2962ff"/>
<rect x="1650" y="504.2" width="2" height="35.4" fill="#089981"/>
<rect x="1646" y="508.3" width="10" height="25.3" fill="#089981"/>
<rect x="1648" y="510.3" width="6" height="21.3" fill="#2962ff"/>
<rect x="1662" y="457.1" width="2" height="45.5" fill="#089981"/>
<rect x="1658" y="468.3" width="10" height="30.3" fill="#089981"/>
<rect x="1660" y="470.3" width="6" height="26.3" fill="#2962ff"/>
<rect x="1675" y="422.3" width="2" height="35.4" fill="#089981"/>
<rect x="1671" y="434.5" width="10" height="21.2" fill="#089981"/>
<rect x="1673" y="436.5" width="6" height="17.2" fill="#2962ff"/>
<rect x="1688" y="429.2" width="2" height="46.3" fill="#089981"/>
<rect x="1684" y="449.1" width="10" height="13.2" fill="#089981"/>
<rect x="1686" y="451.1" width="6" height="9.2" fill="#2962ff"/>
<rect x="1700" y="384.3" width="2" height="33.6" fill="#f23645"/>
<rect x="1696" y="390.0" width="10" height="20.8" fill="#f23645"/>
<rect x="1713" y="391.1" width="2" height="32.5" fill="#089981"/>
<rect x="1709" y="402.3" width="10" height="18.5" fill="#089981"/>
<rect x="1711" y="404.3" width="6" height="14.5" fill="#2962ff"/>
<rect x="1725" y="382.1" width="2" height="34.9" fill="#f23645"/>
<rect x="1721" y="391.1" width="10" height="12.7" fill="#f23645"/>
<rect x="1738" y="339.1" width="2" height="50.5" fill="#089981"/>
<rect x="1734" y="342.5" width="10" height="46.2" fill="#089981"/>
<rect x="1736" y="344.5" width="6" height="42.2" fill="#2962ff"/>
<rect x="1750" y="323.2" width="2" height="95.7" fill="#f23645"/>
<rect x="1746" y="348.1" width="10" height="42.5" fill="#f23645"/>
<rect x="1763" y="377.9" width="2" height="28.7" fill="#f23645"/>
<rect x="1759" y="384.9" width="10" height="5.7" fill="#f23645"/>
<rect x="1776" y="398.1" width="2" height="35.9" fill="#f23645"/>
<rect x="1772" y="400.9" width="10" height="15.7" fill="#f23645"/>
<rect x="1788" y="400.9" width="2" height="59.5" fill="#f23645"/>
<rect x="1784" y="403.8" width="10" height="36.8" fill="#f23645"/>
<rect x="1801" y="387.2" width="2" height="65.6" fill="#089981"/>
<rect x="1797" y="393.4" width="10" height="58.5" fill="#089981"/>
<rect x="1799" y="395.4" width="6" height="54.5" fill="#2962ff"/>
<rect x="1813" y="377.4" width="2" height="30.1" fill="#f23645"/>
<rect x="1809" y="391.1" width="10" height="7.6" fill="#f23645"/>
<rect x="1826" y="408.1" width="2" height="42.5" fill="#f23645"/>
<rect x="1822" y="425.1" width="10" height="19.2" fill="#f23645"/>
<rect x="1838" y="371.1" width="2" height="48.3" fill="#089981"/>
<rect x="1834" y="380.2" width="10" height="39.2" fill="#089981"/>
<rect x="1836" y="382.2" width="6" height="35.2" fill="#2962ff"/>
<rect x="1851" y="345.3" width="2" height="42.4" fill="#089981"/>
<rect x="1847" y="349.1" width="10" height="24.5" fill="#089981"/>
<rect x="1849" y="351.1" width="6" height="20.5" fill="#2962ff"/>
<rect x="1864" y="281.1" width="2" height="60.4" fill="#089981"/>
<rect x="1860" y="293.4" width="10" height="48.1" fill="#089981"/>
<rect x="1862" y="295.4" width="6" height="44.1" fill="#2962ff"/>
<rect x="1876" y="297.1" width="2" height="36.7" fill="#f23645"/>
<rect x="1872" y="302.2" width="10" height="10.3" fill="#f23645"/>
<rect x="1889" y="312.1" width="2" height="34.7" fill="#f23645"/>
<rect x="1885" y="330.0" width="10" height="6.7" fill="#f23645"/>
<rect x="1901" y="343.4" width="2" height="49.8" fill="#f23645"/>
<rect x="1897" y="344.0" width="10" height="9.9" fill="#f23645"/>
<rect x="1914" y="333.2" width="2" height="64.8" fill="#f23645"/>
<rect x="1910" y="349.3" width="10" height="14.6" fill="#f23645"/>
<rect x="1926" y="387.9" width="2" height="40.2" fill="#f23645"/>
<rect x="1922" y="392.1" width="10" height="31.8" fill="#f23645"/>
<rect x="1939" y="474.7" width="2" height="71.0" fill="#089981"/>
<rect x="1935" y="475.3" width="10" height="33.2" fill="#089981"/>
<rect x="1937" y="477.3" width="6" height="29.2" fill="#2962ff"/>
<rect x="1952" y="447.5" width="2" height="98.2" fill="#f23645"/>
<rect x="1948" y="463.8" width="10" height="70.0" fill="#f23645"/>
<rect x="1964" y="463.2" width="2" height="49.7" fill="#089981"/>
<rect x="1960" y="472.6" width="10" height="25.0" fill="#089981"/>
<rect x="1962" y="474.6" width="6" height="21.0" fill="#2962ff"/>
<rect x="1977" y="452.3" width="2" height="48.5" fill="#f23645"/>
<rect x="1973" y="473.6" width="10" height="2.5" fill="#f23645"/>
<rect x="1989" y="478.8" width="2" height="91.7" fill="#f23645"/>
<rect x="1985" y="479.7" width="10" height="79.0" fill="#f23645"/>
<rect x="2002" y="472.2" width="2" height="25.7" fill="#f23645"/>
<rect x="1998" y="475.2" width="10" height="4.6" fill="#f23645"/>
<rect x="2014" y="413.0" width="2" height="44.7" fill="#f23645"/>
<rect x="2010" y="440.1" width="10" height="17.6" fill="#f23645"/>
<rect x="2027" y="467.1" width="2" height="37.7" fill="#f23645"/>
<rect x="2023" y="474.2" width="10" height="15.4" fill="#f23645"/>
<rect x="2040" y="450.2" width="2" height="62.5" fill="#089981"/>
<rect x="2036" y="465.3" width="10" height="32.4" fill="#089981"/>
<rect x="2038" y="467.3" width="6" height="28.4" fill="#2962ff"/>
<rect x="2052" y="429.1" width="2" height="22.6" fill="#f23645"/>
<rect x="2048" y="437.4" width="10" height="3.1" fill="#f23645"/>
<rect x="2065" y="396.3" width="2" height="22.5" fill="#f23645"/>
<rect x="2061" y="396.3" width="10" height="8.3" fill="#f23645"/>
<rect x="2077" y="393.1" width="2" height="35.6" fill="#f23645"/>
<rect x="2073" y="394.3" width="10" height="21.5" fill="#f23645"/>
<rect x="2090" y="384.3" width="2" height="57.3" fill="#f23645"/>
<rect x="2086" y="390.2" width="10" height="34.5" fill="#f23645"/>
<rect x="2102" y="424.3" width="2" height="49.4" fill="#f23645"/>
<rect x="2098" y="426.0" width="10" height="47.7" fill="#f23645"/>
<rect x="2115" y="432.4" width="2" height="38.4" fill="#089981"/>
<rect x="2111" y="440.5" width="10" height="20.9" fill="#089981"/>
<rect x="2113" y="442.5" width="6" height="16.9" fill="#2962ff"/>
<rect x="2127" y="423.1" width="2" height="48.5" fill="#f23645"/>
<rect x="2123" y="441.2" width="10" height="26.8" fill="#f23645"/>
<rect x="2140" y="463.5" width="2" height="62.2" fill="#089981"/>
<rect x="2136" y="469.1" width="10" height="29.9" fill="#089981"/>
<rect x="2138" y="471.1" width="6" height="25.9" fill="#2962ff"/>
<rect x="2153" y="397.5" width="2" height="54.7" fill="#089981"/>
<rect x="2149" y="397.5" width="10" height="54.7" fill="#089981"/>
<rect x="2151" y="399.5" width="6" height="50.7" fill="#2962ff"/>
<rect x="2165" y="412.1" width="2" height="26.8" fill="#f23645"/>
<rect x="2161" y="415.3" width="10" height="14.2" fill="#f23645"/>
<rect x="2178" y="374.2" width="2" height="46.3" fill="#089981"/>
<rect x="2174" y="376.4" width="10" height="43.3" fill="#089981"/>
<rect x="2176" y="378.4" width="6" height="39.3" fill="#2962ff"/>
<rect x="2190" y="358.2" width="2" height="35.5" fill="#f23645"/>
<rect x="2186" y="363.2" width="10" height="7.2" fill="#f23645"/>
<rect x="2203" y="328.2" width="2" height="35.6" fill="#089981"/>
<rect x="2199" y="341.3" width="10" height="21.3" fill="#089981"/>
<rect x="2201" y="343.3" width="6" height="17.3" fill="#2962ff"/>
<rect x="2215" y="306.1" width="2" height="58.8" fill="#089981"/>
<rect x="2211" y="321.3" width="10" height="38.3" fill="#089981"/>
<rect x="2213" y="323.3" width="6" height="34.3" fill="#2962ff"/>
<rect x="2228" y="346.2" width="2" height="44.5" fill="#f23645"/>
<rect x="2224" y="375.1" width="10" height="11.3" fill="#f23645"/>
<rect x="2241" y="391.2" width="2" height="36.5" fill="#f23645"/>
<rect x="2237" y="403.3" width="10" height="8.4" fill="#f23645"/>
<rect x="2253" y="436.5" width="2" height="47.2" fill="#f23645"/>
<rect x="2249" y="438.2" width="10" height="32.5" fill="#f23645"/>
<rect x="2266" y="455.5" width="2" height="37.9" fill="#f23645"/>
<rect x="2262" y="466.1" width="10" height="16.4" fill="#f23645"/>
<rect x="2278" y="454.3" width="2" height="45.0" fill="#f23645"/>
<rect x="2274" y="460.6" width="10" height="21.9" fill="#f23645"/>
<rect x="2291" y="527.5" width="2" height="39.2" fill="#f23645"/>
<rect x="2287" y="530.2" width="10" height="32.3" fill="#f23645"/>
<rect x="2303" y="490.4" width="2" height="51.1" fill="#089981"/>
<rect x="2299" y="497.6" width="10" height="33.4" fill="#089981"/>
<rect x="2301" y="499.6" width="6" height="29.4" fill="#2962ff"/>
<rect x="2316" y="451.3" width="2" height="42.1" fill="#f23645"/>
<rect x="2312" y="467.3" width="10" height="7.1" fill="#f23645"/>
<rect x="2329" y="443.4" width="2" height="28.1" fill="#f23645"/>
<rect x="2325" y="454.7" width="10" height="15.5" fill="#f23645"/>
<rect x="2341" y="444.6" width="2" height="38.2" fill="#089981"/>
<rect x="2337" y="465.8" width="10" height="2.0" fill="#089981"/>
<rect x="2354" y="459.4" width="2" height="25.1" fill="#f23645"/>
<rect x="2350" y="459.4" width="10" height="20.1" fill="#f23645"/>
<rect x="2366" y="437.3" width="2" height="34.2" fill="#089981"/>
<rect x="2362" y="456.4" width="10" height="10.8" fill="#089981"/>
<rect x="2364" y="458.4" width="6" height="6.8" fill="#2962ff"/>
<rect x="2379" y="426.0" width="2" height="35.9" fill="#f23645"/>
<rect x="2375" y="436.0" width="10" height="12.6" fill="#f23645"/>
<rect x="2391" y="461.4" width="2" height="34.4" fill="#f23645"/>
<rect x="2387" y="462.7" width="10" height="29.1" fill="#f23645"/>
<rect x="2404" y="462.3" width="2" height="43.5" fill="#089981"/>
<rect x="2400" y="469.5" width="10" height="16.9" fill="#089981"/>
<rect x="2402" y="471.5" width="6" height="12.9" fill="#2962ff"/>
<rect x="2417" y="443.3" width="2" height="48.5" fill="#089981"/>
<rect x="2413" y="449.4" width="10" height="33.0" fill="#089981"/>
<rect x="2415" y="451.4" width="6" height="29.0" fill="#2962ff"/>
<rect x="2429" y="441.2" width="2" height="50.6" fill="#f23645"/>
<rect x="2425" y="452.2" width="10" height="39.6" fill="#f23645"/>
<rect x="2442" y="484.2" width="2" height="55.3" fill="#f23645"/>
<rect x="2438" y="489.0" width="10" height="45.6" fill="#f23645"/>
<rect x="2454" y="520.4" width="2" height="36.4" fill="#089981"/>
<rect x="2450" y="520.9" width="10" height="13.2" fill="#089981"/>
<rect x="2452" y="522.9" width="6" height="9.2" fill="#2962ff"/>
<rect x="2467" y="486.1" width="2" height="42.5" fill="#f23645"/>
<rect x="2463" y="498.2" width="10" height="23.2" fill="#f23645"/>
<rect x="2479" y="460.7" width="2" height="38.8" fill="#089981"/>
<rect x="2475" y="463.5" width="10" height="27.8" fill="#089981"/>
<rect x="2477" y="465.5" width="6" height="23.8" fill="#2962ff"/>
<rect x="2492" y="483.2" width="2" height="28.0" fill="#f23645"/>
<rect x="2488" y="497.4" width="10" height="12.2" fill="#f23645"/>
<rect x="2505" y="519.3" width="2" height="59.3" fill="#f23645"/>
<rect x="2501" y="519.3" width="10" height="41.2" fill="#f23645"/>
<rect x="2517" y="526.2" width="2" height="41.6" fill="#089981"/>
<rect x="2513" y="529.4" width="10" height="29.8" fill="#089981"/>
<rect x="2515" y="531.4" width="6" height="25.8" fill="#2962ff"/>
<rect x="2530" y="524.1" width="2" height="31.9" fill="#089981"/>
<rect x="2526" y="526.5" width="10" height="21.1" fill="#089981"/>
<rect x="2528" y="528.5" width="6" height="17.1" fill="#2962ff"/>
<rect x="2542" y="493.4" width="2" height="25.4" fill="#089981"/>
<rect x="2538" y="501.5" width="10" height="6.9" fill="#089981"/>
<rect x="2540" y="503.5" width="6" height="2.9" fill="#2962ff"/>
<rect x="2555" y="479.4" width="2" height="23.2" fill="#089981"/>
<rect x="2551" y="484.8" width="10" height="2.0" fill="#089981"/>
<rect x="2567" y="470.6" width="2" height="24.9" fill="#f23645"/>
<rect x="2563" y="477.2" width="10" height="13.2" fill="#f23645"/>
<rect x="2580" y="475.3" width="2" height="13.8" fill="#089981"/>
<rect x="2576" y="484.2" width="10" height="4.9" fill="#089981"/>
<rect x="2578" y="486.2" width="6" height="0.9" fill="#2962ff"/>
<rect x="2593" y="450.4" width="2" height="57.9" fill="#f23645"/>
<rect x="2589" y="470.2" width="10" height="38.1" fill="#f23645"/>
<rect x="2605" y="469.2" width="2" height="41.0" fill="#089981"/>
<rect x="2601" y="479.1" width="10" height="29.2" fill="#089981"/>
<rect x="2603" y="481.1" width="6" height="25.2" fill="#2962ff"/>
<rect x="2618" y="485.3" width="2" height="32.4" fill="#f23645"/>
<rect x="2614" y="486.2" width="10" height="22.1" fill="#f23645"/>
<rect x="2630" y="416.2" width="2" height="81.2" fill="#089981"/>
<rect x="2626" y="416.2" width="10" height="81.2" fill="#089981"/>
<rect x="2628" y="418.2" width="6" height="77.2" fill="#2962ff"/>
<rect x="2643" y="403.6" width="2" height="23.2" fill="#f23645"/>
<rect x="2639" y="413.0" width="10" height="2.0" fill="#f23645"/>
<rect x="2655" y="349.4" width="2" height="45.7" fill="#089981"/>
<rect x="2651" y="368.3" width="10" height="26.8" fill="#089981"/>
<rect x="2653" y="370.3" width="6" height="22.8" fill="#2962ff"/>
<rect x="2668" y="380.4" width="2" height="39.6" fill="#f23645"/>
<rect x="2664" y="382.3" width="10" height="19.0" fill="#f23645"/>
<rect x="2681" y="421.1" width="2" height="44.7" fill="#f23645"/>
<rect x="2677" y="421.1" width="10" height="20.6" fill="#f23645"/>
<rect x="2693" y="422.5" width="2" height="23.2" fill="#f23645"/>
<rect x="2689" y="425.3" width="10" height="5.1" fill="#f23645"/>
<rect x="2706" y="381.5" width="2" height="54.2" fill="#089981"/>
<rect x="2702" y="381.5" width="10" height="30.6" fill="#089981"/>
<rect x="2704" y="383.5" width="6" height="26.6" fill="#2962ff"/>
<rect x="2718" y="312.1" width="2" height="53.7" fill="#f23645"/>
<rect x="2714" y="336.2" width="10" height="14.6" fill="#f23645"/>
<rect x="2731" y="318.3" width="2" height="40.4" fill="#089981"/>
<rect x="2727" y="330.9" width="10" height="3.8" fill="#089981"/>
<rect x="2743" y="304.1" width="2" height="50.4" fill="#f23645"/>
<rect x="2739" y="334.1" width="10" height="7.3" fill="#f23645"/>
<rect x="2756" y="308.2" width="2" height="55.3" fill="#f23645"/>
<rect x="2752" y="318.0" width="10" height="33.6" fill="#f23645"/>
<rect x="2769" y="368.3" width="2" height="22.4" fill="#f23645"/>
<rect x="2765" y="377.0" width="10" height="10.5" fill="#f23645"/>
<rect x="2781" y="378.2" width="2" height="34.7" fill="#f23645"/>
<rect x="2777" y="389.8" width="10" height="7.9" fill="#f23645"/>
<rect x="2794" y="370.0" width="2" height="39.4" fill="#089981"/>
<rect x="2790" y="384.0" width="10" height="25.4" fill="#089981"/>
<rect x="2792" y="386.0" width="6" height="21.4" fill="#2962ff"/>
<rect x="2806" y="359.0" width="2" height="36.8" fill="#f23645"/>
<rect x="2802" y="363.0" width="10" height="16.6" fill="#f23645"/>
<rect x="2819" y="344.1" width="2" height="26.8" fill="#f23645"/>
<rect x="2815" y="349.0" width="10" height="14.5" fill="#f23645"/>
<rect x="2831" y="342.0" width="2" height="37.6" fill="#f23645"/>
<rect x="2827" y="351.1" width="10" height="10.7" fill="#f23645"/>
<rect x="2844" y="306.1" width="2" height="46.8" fill="#089981"/>
<rect x="2840" y="314.5" width="10" height="34.0" fill="#089981"/>
<rect x="2842" y="316.5" width="6" height="30.0" fill="#2962ff"/>
<rect x="2857" y="223.4" width="2" height="73.4" fill="#089981"/>
<rect x="2853" y="223.4" width="10" height="64.8" fill="#089981"/>
<rect x="2855" y="225.4" width="6" height="60.8" fill="#2962ff"/>
<rect x="2869" y="194.0" width="2" height="56.9" fill="#089981"/>
<rect x="2865" y="205.4" width="10" height="44.1" fill="#089981"/>
<rect x="2867" y="207.4" width="6" height="40.1" fill="#2962ff"/>
<rect x="2882" y="215.0" width="2" height="65.7" fill="#f23645"/>
<rect x="2878" y="229.4" width="10" height="51.3" fill="#f23645"/>
<rect x="2894" y="318.0" width="2" height="76.5" fill="#f23645"/>
<rect x="2890" y="318.0" width="10" height="42.4" fill="#f23645"/>
<rect x="2907" y="314.0" width="2" height="89.3" fill="#f23645"/>
<rect x="2903" y="331.0" width="10" height="21.5" fill="#f23645"/>
<rect x="2919" y="330.1" width="2" height="52.5" fill="#089981"/>
<rect x="2915" y="350.2" width="10" height="7.0" fill="#089981"/>
<rect x="2917" y="352.2" width="6" height="3.0" fill="#2962ff"/>
<rect x="2932" y="341.1" width="2" height="65.4" fill="#089981"/>
<rect x="2928" y="346.4" width="10" height="32.8" fill="#089981"/>
<rect x="2930" y="348.4" width="6" height="28.8" fill="#2962ff"/>
<rect x="2944" y="368.0" width="2" height="53.4" fill="#089981"/>
<rect x="2940" y="388.5" width="10" height="25.9" fill="#089981"/>
<rect x="2942" y="390.5" width="6" height="21.9" fill="#2962ff"/>
<rect x="2957" y="316.3" width="2" height="29.4" fill="#089981"/>
<rect x="2953" y="327.4" width="10" height="6.2" fill="#089981"/>
<rect x="2955" y="329.4" width="6" height="2.2" fill="#2962ff"/>
<rect x="2970" y="279.1" width="2" height="37.8" fill="#f23645"/>
<rect x="2966" y="304.0" width="10" height="3.7" fill="#f23645"/>
<rect x="2982" y="288.0" width="2" height="24.9" fill="#089981"/>
<rect x="2978" y="295.9" width="10" height="3.7" fill="#089981"/>
<rect x="2995" y="303.2" width="2" height="35.7" fill="#f23645"/>
<rect x="2991" y="303.2" width="10" height="23.4" fill="#f23645"/>
<rect x="3007" y="360.2" width="2" height="42.6" fill="#f23645"/>
<rect x="3003" y="377.2" width="10" height="10.5" fill="#f23645"/>
<rect x="3020" y="365.1" width="2" height="45.6" fill="#089981"/>
<rect x="3016" y="369.5" width="10" height="25.8" fill="#089981"/>
<rect x="3018" y="371.5" width="6" height="21.8" fill="#2962ff"/>
<rect x="3032" y="370.3" width="2" height="43.3" fill="#f23645"/>
<rect x="3028" y="375.1" width="10" height="32.5" fill="#f23645"/>
<rect x="3045" y="310.1" width="2" height="47.4" fill="#089981"/>
<rect x="3041" y="320.3" width="10" height="37.2" fill="#089981"/>
<rect x="3043" y="322.3" width="6" height="33.2" fill="#2962ff"/>
<rect x="3058" y="342.1" width="2" height="55.8" fill="#f23645"/>
<rect x="3054" y="342.1" width="10" height="42.4" fill="#f23645"/>
<rect x="3070" y="347.0" width="2" height="30.7" fill="#089981"/>
<rect x="3066" y="361.0" width="10" height="3.3" fill="#089981"/>
<rect x="3083" y="327.6" width="2" height="84.1" fill="#f23645"/>
<rect x="3079" y="327.6" width="10" height="84.1" fill="#f23645"/>
<rect x="3095" y="369.1" width="2" height="42.6" fill="#089981"/>
<rect x="3091" y="379.6" width="10" height="22.7" fill="#089981"/>
<rect x="3093" y="381.6" width="6" height="18.7" fill="#2962ff"/>
<rect x="3108" y="407.9" width="2" height="67.9" fill="#f23645"/>
<rect x="3104" y="421.2" width="10" height="32.3" fill="#f23645"/>
<rect x="3120" y="432.2" width="2" height="63.5" fill="#f23645"/>
<rect x="3116" y="436.2" width="10" height="55.3" fill="#f23645"/>
<rect x="3133" y="529.1" width="2" height="66.5" fill="#f23645"/>
<rect x="3129" y="529.1" width="10" height="29.6" fill="#f23645"/>
<rect x="3146" y="495.2" width="2" height="64.3" fill="#f23645"/>
<rect x="3142" y="513.9" width="10" height="35.9" fill="#f23645"/>
<rect x="3158" y="486.1" width="2" height="69.4" fill="#089981"/>
<rect x="3154" y="492.1" width="10" height="52.4" fill="#089981"/>
<rect x="3156" y="494.1" width="6" height="48.4" fill="#2962ff"/>
<rect x="3171" y="532.8" width="2" height="69.1" fill="#089981"/>
<rect x="3167" y="537.2" width="10" height="43.3" fill="#089981"/>
<rect x="3169" y="539.2" width="6" height="39.3" fill="#2962ff"/>
<rect x="3183" y="466.2" width="2" height="44.5" fill="#089981"/>
<rect x="3179" y="466.2" width="10" height="28.3" fill="#089981"/>
<rect x="3181" y="468.2" width="6" height="24.3" fill="#2962ff"/>
<rect x="3196" y="440.6" width="2" height="43.2" fill="#f23645"/>
<rect x="3192" y="446.0" width="10" height="28.6" fill="#f23645"/>
<rect x="3208" y="469.0" width="2" height="53.8" fill="#f23645"/>
<rect x="3204" y="495.8" width="10" height="2.0" fill="#f23645"/>
<rect x="3221" y="500.0" width="2" height="35.6" fill="#f23645"/>
<rect x="3217" y="513.9" width="10" height="16.8" fill="#f23645"/>
<rect x="3234" y="479.0" width="2" height="69.7" fill="#089981"/>
<rect x="3230" y="482.2" width="10" height="52.3" fill="#089981"/>
<rect x="3232" y="484.2" width="6" height="48.3" fill="#2962ff"/>
<rect x="3246" y="428.0" width="2" height="52.6" fill="#f23645"/>
<rect x="3242" y="468.1" width="10" height="9.7" fill="#f23645"/>
<rect x="3259" y="444.7" width="2" height="42.0" fill="#089981"/>
<rect x="3255" y="457.3" width="10" height="12.9" fill="#089981"/>
<rect x="3257" y="459.3" width="6" height="8.9" fill="#2962ff"/>
<rect x="3271" y="494.0" width="2" height="37.7" fill="#f23645"/>
<rect x="3267" y="519.1" width="10" height="6.8" fill="#f23645"/>
<rect x="3284" y="517.1" width="2" height="34.7" fill="#089981"/>
<rect x="3280" y="545.5" width="10" height="2.0" fill="#089981"/>
<line x1="19.9" y1="546.1" x2="3352" y2="546.1" stroke="#2962ff" stroke-width="2" stroke-dasharray="2 4"/>
</g>
<text x="37.8" y="94.4" font-size="24" fill="#131722" textLength="297.5" lengthAdjust="spacing">Hang Seng Index · 1D · HSI</text>
<text x="351.9" y="94.4" font-size="24" fill="#131722" text-anchor="start">O</text>
<text x="371.0" y="94.4" font-size="24" fill="#089981" textLength="109.5" lengthAdjust="spacing">25,337.28</text>
<text x="496.3" y="94.4" font-size="24" fill="#131722" text-anchor="start">H</text>
<text x="514.6" y="94.4" font-size="24" fill="#089981" textLength="113.2" lengthAdjust="spacing">25,563.88</text>
<text x="644.4" y="94.4" font-size="24" fill="#131722" text-anchor="start">L</text>
<text x="658.3" y="94.4" font-size="24" fill="#089981" textLength="104.1" lengthAdjust="spacing">25,297.12</text>
<text x="778.3" y="94.4" font-size="24" fill="#131722" text-anchor="start">C</text>
<text x="796.4" y="94.4" font-size="24" fill="#089981" textLength="112.4" lengthAdjust="spacing">25,340.43</text>
<text x="37.8" y="127.9" font-size="24" fill="#131722" textLength="175.0" lengthAdjust="spacing">EMA (50, close)</text>
<text x="230.0" y="127.9" font-size="24" fill="#2962ff" textLength="109.8" lengthAdjust="spacing">26,184.02</text>
<text x="37.8" y="161.8" font-size="24" fill="#131722" textLength="186.2" lengthAdjust="spacing">EMA (100, close)</text>
<text x="241.5" y="161.8" font-size="24" fill="#000000" textLength="112.6" lengthAdjust="spacing">26,098.79</text>
<text x="3377.9" y="339.1" font-size="33.5" fill="#131722" textLength="150.3" lengthAdjust="spacing">27,000.00</text>
<text x="3377.9" y="468.9" font-size="33.5" fill="#131722" textLength="150.3" lengthAdjust="spacing">26,000.00</text>
<text x="3377.9" y="728.6" font-size="33.5" fill="#131722" textLength="150.3" lengthAdjust="spacing">24,000.00</text>
<text x="3377.9" y="858.4" font-size="33.5" fill="#131722" textLength="150.3" lengthAdjust="spacing">23,000.00</text>
<text x="3377.9" y="988.2" font-size="33.5" fill="#131722" textLength="150.3" lengthAdjust="spacing">22,000.00</text>
<text x="3377.9" y="1118.1" font-size="33.5" fill="#131722" textLength="150.3" lengthAdjust="spacing">21,000.00</text>
<text x="3377.9" y="1247.9" font-size="33.5" fill="#131722" textLength="150.3" lengthAdjust="spacing">20,000.00</text>
<text x="3377.9" y="1377.7" font-size="33.5" fill="#131722" textLength="150.3" lengthAdjust="spacing">19,000.00</text>
<path d="M3356,171.1 H3540.8 Q3543.8,171.1 3543.8,174.1 V213.9 Q3543.8,216.9 3540.8,216.9 H3356 Z" fill="#f23645"/>
<text x="3379.0" y="202.8" font-size="33.5" fill="#ffffff" textLength="150.0" lengthAdjust="spacing">28,052.03</text>
<path d="M3356,559.3 H3540.8 Q3543.8,559.3 3543.8,562.3 V602.1 Q3543.8,605.1 3540.8,605.1 H3356 Z" fill="#f23645"/>
<text x="3379.0" y="591.0" font-size="33.5" fill="#ffffff" textLength="150.0" lengthAdjust="spacing">25,061.80</text>
<rect x="3362.5" y="62.5" width="183" height="51.5" rx="7" fill="#ffffff" stroke="#eceef2" stroke-width="1.5"/>
<text x="3381.5" y="96.1" font-size="24.5" fill="#000000" textLength="48.1" lengthAdjust="spacing">HKD</text>
<g clip-path="url(#cp)">
<rect x="11.6" y="1703.0" width="10.6" height="7.2" fill="#b2dfdb"/>
<rect x="24.1" y="1710.2" width="10.6" height="4.9" fill="#ef5350"/>
<rect x="36.7" y="1710.2" width="10.6" height="15.0" fill="#ef5350"/>
<rect x="49.3" y="1710.2" width="10.6" height="12.5" fill="#ffcdd2"/>
<rect x="61.8" y="1710.2" width="10.6" height="1.0" fill="#ffcdd2"/>
<rect x="74.4" y="1707.0" width="10.6" height="3.2" fill="#26a69a"/>
<rect x="87.0" y="1710.2" width="10.6" height="3.5" fill="#ef5350"/>
<rect x="99.5" y="1710.2" width="10.6" height="9.4" fill="#ef5350"/>
<rect x="112.1" y="1710.2" width="10.6" height="17.2" fill="#ef5350"/>
<rect x="124.7" y="1710.2" width="10.6" height="25.1" fill="#ef5350"/>
<rect x="137.3" y="1710.2" width="10.6" height="22.8" fill="#ffcdd2"/>
<rect x="149.8" y="1710.2" width="10.6" height="19.2" fill="#ffcdd2"/>
<rect x="162.4" y="1710.2" width="10.6" height="8.8" fill="#ffcdd2"/>
<rect x="175.0" y="1710.2" width="10.6" height="3.1" fill="#ffcdd2"/>
<rect x="187.5" y="1710.2" width="10.6" height="9.2" fill="#ef5350"/>
<rect x="200.1" y="1710.2" width="10.6" height="21.9" fill="#ef5350"/>
<rect x="212.7" y="1710.2" width="10.6" height="27.0" fill="#ef5350"/>
<rect x="225.2" y="1710.2" width="10.6" height="38.5" fill="#ef5350"/>
<rect x="237.8" y="1710.2" width="10.6" height="43.0" fill="#ef5350"/>
<rect x="250.4" y="1710.2" width="10.6" height="43.5" fill="#ef5350"/>
<rect x="262.9" y="1710.2" width="10.6" height="44.9" fill="#ef5350"/>
<rect x="275.5" y="1710.2" width="10.6" height="49.1" fill="#ef5350"/>
<rect x="288.1" y="1710.2" width="10.6" height="48.7" fill="#ffcdd2"/>
<rect x="300.7" y="1710.2" width="10.6" height="47.1" fill="#ffcdd2"/>
<rect x="313.2" y="1710.2" width="10.6" height="49.4" fill="#ef5350"/>
<rect x="325.8" y="1710.2" width="10.6" height="95.2" fill="#ef5350"/>
<rect x="338.4" y="1710.2" width="10.6" height="115.6" fill="#ef5350"/>
<rect x="350.9" y="1710.2" width="10.6" height="120.9" fill="#ef5350"/>
<rect x="363.5" y="1710.2" width="10.6" height="111.6" fill="#ffcdd2"/>
<rect x="376.1" y="1710.2" width="10.6" height="96.1" fill="#ffcdd2"/>
<rect x="388.6" y="1710.2" width="10.6" height="72.6" fill="#ffcdd2"/>
<rect x="401.2" y="1710.2" width="10.6" height="52.6" fill="#ffcdd2"/>
<rect x="413.8" y="1710.2" width="10.6" height="43.2" fill="#ffcdd2"/>
<rect x="426.3" y="1710.2" width="10.6" height="28.5" fill="#ffcdd2"/>
<rect x="438.9" y="1710.2" width="10.6" height="14.2" fill="#ffcdd2"/>
<rect x="451.5" y="1705.2" width="10.6" height="5.0" fill="#26a69a"/>
<rect x="464.1" y="1695.0" width="10.6" height="15.2" fill="#26a69a"/>
<rect x="476.6" y="1687.3" width="10.6" height="22.9" fill="#26a69a"/>
<rect x="489.2" y="1682.8" width="10.6" height="27.4" fill="#26a69a"/>
<rect x="501.8" y="1680.0" width="10.6" height="30.2" fill="#26a69a"/>
<rect x="514.3" y="1677.2" width="10.6" height="33.0" fill="#26a69a"/>
<rect x="526.9" y="1670.2" width="10.6" height="40.0" fill="#26a69a"/>
<rect x="539.5" y="1664.8" width="10.6" height="45.4" fill="#26a69a"/>
<rect x="552.0" y="1662.8" width="10.6" height="47.4" fill="#26a69a"/>
<rect x="564.6" y="1662.3" width="10.6" height="47.9" fill="#26a69a"/>
<rect x="577.2" y="1662.5" width="10.6" height="47.7" fill="#b2dfdb"/>
<rect x="589.7" y="1654.5" width="10.6" height="55.7" fill="#26a69a"/>
<rect x="602.3" y="1659.4" width="10.6" height="50.8" fill="#b2dfdb"/>
<rect x="614.9" y="1656.9" width="10.6" height="53.3" fill="#26a69a"/>
<rect x="627.5" y="1661.2" width="10.6" height="49.0" fill="#b2dfdb"/>
<rect x="640.0" y="1668.4" width="10.6" height="41.8" fill="#b2dfdb"/>
<rect x="652.6" y="1675.7" width="10.6" height="34.5" fill="#b2dfdb"/>
<rect x="665.2" y="1677.1" width="10.6" height="33.1" fill="#b2dfdb"/>
<rect x="677.7" y="1678.1" width="10.6" height="32.1" fill="#b2dfdb"/>
<rect x="690.3" y="1685.4" width="10.6" height="24.8" fill="#b2dfdb"/>
<rect x="702.9" y="1691.1" width="10.6" height="19.1" fill="#b2dfdb"/>
<rect x="715.4" y="1701.2" width="10.6" height="9.0" fill="#b2dfdb"/>
<rect x="728.0" y="1707.1" width="10.6" height="3.1" fill="#b2dfdb"/>
<rect x="740.6" y="1710.2" width="10.6" height="3.4" fill="#ef5350"/>
<rect x="753.1" y="1710.2" width="10.6" height="3.2" fill="#ffcdd2"/>
<rect x="765.7" y="1710.2" width="10.6" height="7.9" fill="#ef5350"/>
<rect x="778.3" y="1710.2" width="10.6" height="13.1" fill="#ef5350"/>
<rect x="790.9" y="1710.2" width="10.6" height="11.0" fill="#ffcdd2"/>
<rect x="803.4" y="1710.2" width="10.6" height="7.6" fill="#ffcdd2"/>
<rect x="816.0" y="1710.2" width="10.6" height="1.9" fill="#ffcdd2"/>
<rect x="828.6" y="1710.2" width="10.6" height="1.0" fill="#ffcdd2"/>
<rect x="841.1" y="1704.9" width="10.6" height="5.3" fill="#26a69a"/>
<rect x="853.7" y="1702.4" width="10.6" height="7.8" fill="#26a69a"/>
<rect x="866.3" y="1698.8" width="10.6" height="11.4" fill="#26a69a"/>
<rect x="878.8" y="1702.8" width="10.6" height="7.4" fill="#b2dfdb"/>
<rect x="891.4" y="1708.5" width="10.6" height="1.7" fill="#b2dfdb"/>
<rect x="904.0" y="1710.2" width="10.6" height="1.0" fill="#b2dfdb"/>
<rect x="916.5" y="1710.2" width="10.6" height="3.3" fill="#ef5350"/>
<rect x="929.1" y="1710.2" width="10.6" height="9.9" fill="#ef5350"/>
<rect x="941.7" y="1710.2" width="10.6" height="21.0" fill="#ef5350"/>
<rect x="954.3" y="1710.2" width="10.6" height="23.1" fill="#ef5350"/>
<rect x="966.8" y="1710.2" width="10.6" height="21.4" fill="#ffcdd2"/>
<rect x="979.4" y="1710.2" width="10.6" height="12.5" fill="#ffcdd2"/>
<rect x="992.0" y="1710.2" width="10.6" height="2.4" fill="#ffcdd2"/>
<rect x="1004.5" y="1708.9" width="10.6" height="1.3" fill="#26a69a"/>
<rect x="1017.1" y="1707.8" width="10.6" height="2.4" fill="#26a69a"/>
<rect x="1029.7" y="1710.2" width="10.6" height="1.0" fill="#ef5350"/>
<rect x="1042.2" y="1710.2" width="10.6" height="1.0" fill="#ef5350"/>
<rect x="1054.8" y="1710.2" width="10.6" height="3.6" fill="#ef5350"/>
<rect x="1067.4" y="1710.2" width="10.6" height="7.7" fill="#ef5350"/>
<rect x="1079.9" y="1710.2" width="10.6" height="11.0" fill="#ef5350"/>
<rect x="1092.5" y="1710.2" width="10.6" height="9.2" fill="#ffcdd2"/>
<rect x="1105.1" y="1710.2" width="10.6" height="11.6" fill="#ef5350"/>
<rect x="1117.7" y="1710.2" width="10.6" height="10.9" fill="#ffcdd2"/>
<rect x="1130.2" y="1710.2" width="10.6" height="8.7" fill="#ffcdd2"/>
<rect x="1142.8" y="1710.2" width="10.6" height="6.3" fill="#ffcdd2"/>
<rect x="1155.4" y="1709.3" width="10.6" height="1.0" fill="#26a69a"/>
<rect x="1167.9" y="1706.4" width="10.6" height="3.8" fill="#26a69a"/>
<rect x="1180.5" y="1705.3" width="10.6" height="4.9" fill="#26a69a"/>
<rect x="1193.1" y="1700.7" width="10.6" height="9.5" fill="#26a69a"/>
<rect x="1205.6" y="1696.0" width="10.6" height="14.2" fill="#26a69a"/>
<rect x="1218.2" y="1692.5" width="10.6" height="17.7" fill="#26a69a"/>
<rect x="1230.8" y="1686.0" width="10.6" height="24.2" fill="#26a69a"/>
<rect x="1243.3" y="1682.0" width="10.6" height="28.2" fill="#26a69a"/>
<rect x="1255.9" y="1685.6" width="10.6" height="24.6" fill="#b2dfdb"/>
<rect x="1268.5" y="1687.3" width="10.6" height="22.9" fill="#b2dfdb"/>
<rect x="1281.1" y="1690.8" width="10.6" height="19.4" fill="#b2dfdb"/>
<rect x="1293.6" y="1699.7" width="10.6" height="10.5" fill="#b2dfdb"/>
<rect x="1306.2" y="1710.2" width="10.6" height="2.2" fill="#ef5350"/>
<rect x="1318.8" y="1710.2" width="10.6" height="14.5" fill="#ef5350"/>
<rect x="1331.3" y="1710.2" width="10.6" height="19.0" fill="#ef5350"/>
<rect x="1343.9" y="1710.2" width="10.6" height="19.1" fill="#ef5350"/>
<rect x="1356.5" y="1710.2" width="10.6" height="18.8" fill="#ffcdd2"/>
<rect x="1369.0" y="1710.2" width="10.6" height="15.8" fill="#ffcdd2"/>
<rect x="1381.6" y="1710.2" width="10.6" height="16.8" fill="#ef5350"/>
<rect x="1394.2" y="1710.2" width="10.6" height="16.4" fill="#ffcdd2"/>
<rect x="1406.7" y="1710.2" width="10.6" height="14.8" fill="#ffcdd2"/>
<rect x="1419.3" y="1710.2" width="10.6" height="4.6" fill="#ffcdd2"/>
<rect x="1431.9" y="1709.9" width="10.6" height="1.0" fill="#26a69a"/>
<rect x="1444.4" y="1710.2" width="10.6" height="1.0" fill="#ef5350"/>
<rect x="1457.0" y="1710.2" width="10.6" height="2.9" fill="#ef5350"/>
<rect x="1469.6" y="1710.2" width="10.6" height="5.4" fill="#ef5350"/>
<rect x="1482.2" y="1710.2" width="10.6" height="6.6" fill="#ef5350"/>
<rect x="1494.7" y="1710.2" width="10.6" height="8.3" fill="#ef5350"/>
<rect x="1507.3" y="1710.2" width="10.6" height="6.0" fill="#ffcdd2"/>
<rect x="1519.9" y="1708.1" width="10.6" height="2.1" fill="#26a69a"/>
<rect x="1532.4" y="1707.8" width="10.6" height="2.4" fill="#26a69a"/>
<rect x="1545.0" y="1710.2" width="10.6" height="2.4" fill="#ef5350"/>
<rect x="1557.6" y="1710.2" width="10.6" height="8.6" fill="#ef5350"/>
<rect x="1570.1" y="1710.2" width="10.6" height="11.3" fill="#ef5350"/>
<rect x="1582.7" y="1710.2" width="10.6" height="5.2" fill="#ffcdd2"/>
<rect x="1595.3" y="1710.2" width="10.6" height="3.2" fill="#ffcdd2"/>
<rect x="1607.8" y="1710.2" width="10.6" height="4.3" fill="#ef5350"/>
<rect x="1620.4" y="1710.2" width="10.6" height="9.1" fill="#ef5350"/>
<rect x="1633.0" y="1710.2" width="10.6" height="6.8" fill="#ffcdd2"/>
<rect x="1645.6" y="1710.2" width="10.6" height="2.4" fill="#ffcdd2"/>
<rect x="1658.1" y="1705.7" width="10.6" height="4.5" fill="#26a69a"/>
<rect x="1670.7" y="1698.4" width="10.6" height="11.8" fill="#26a69a"/>
<rect x="1683.3" y="1696.4" width="10.6" height="13.8" fill="#26a69a"/>
<rect x="1695.8" y="1692.2" width="10.6" height="18.0" fill="#26a69a"/>
<rect x="1708.4" y="1690.1" width="10.6" height="20.1" fill="#26a69a"/>
<rect x="1721.0" y="1690.5" width="10.6" height="19.7" fill="#b2dfdb"/>
<rect x="1733.5" y="1686.0" width="10.6" height="24.2" fill="#26a69a"/>
<rect x="1746.1" y="1690.0" width="10.6" height="20.2" fill="#b2dfdb"/>
<rect x="1758.7" y="1694.3" width="10.6" height="15.9" fill="#b2dfdb"/>
<rect x="1771.2" y="1701.1" width="10.6" height="9.1" fill="#b2dfdb"/>
<rect x="1783.8" y="1709.1" width="10.6" height="1.1" fill="#b2dfdb"/>
<rect x="1796.4" y="1709.9" width="10.6" height="1.0" fill="#b2dfdb"/>
<rect x="1809.0" y="1710.2" width="10.6" height="1.5" fill="#ef5350"/>
<rect x="1821.5" y="1710.2" width="10.6" height="7.9" fill="#ef5350"/>
<rect x="1834.1" y="1710.2" width="10.6" height="5.6" fill="#ffcdd2"/>
<rect x="1846.7" y="1710.2" width="10.6" height="1.3" fill="#ffcdd2"/>
<rect x="1859.2" y="1703.7" width="10.6" height="6.5" fill="#26a69a"/>
<rect x="1871.8" y="1701.8" width="10.6" height="8.4" fill="#26a69a"/>
<rect x="1884.4" y="1704.3" width="10.6" height="5.9" fill="#b2dfdb"/>
<rect x="1896.9" y="1708.6" width="10.6" height="1.6" fill="#b2dfdb"/>
<rect x="1909.5" y="1710.2" width="10.6" height="2.9" fill="#ef5350"/>
<rect x="1922.1" y="1710.2" width="10.6" height="12.4" fill="#ef5350"/>
<rect x="1934.6" y="1710.2" width="10.6" height="23.6" fill="#ef5350"/>
<rect x="1947.2" y="1710.2" width="10.6" height="36.1" fill="#ef5350"/>
<rect x="1959.8" y="1710.2" width="10.6" height="36.2" fill="#ef5350"/>
<rect x="1972.4" y="1710.2" width="10.6" height="35.3" fill="#ffcdd2"/>
<rect x="1984.9" y="1710.2" width="10.6" height="41.8" fill="#ef5350"/>
<rect x="1997.5" y="1710.2" width="10.6" height="35.8" fill="#ffcdd2"/>
<rect x="2010.1" y="1710.2" width="10.6" height="28.1" fill="#ffcdd2"/>
<rect x="2022.6" y="1710.2" width="10.6" height="25.2" fill="#ffcdd2"/>
<rect x="2035.2" y="1710.2" width="10.6" height="19.7" fill="#ffcdd2"/>
<rect x="2047.8" y="1710.2" width="10.6" height="12.6" fill="#ffcdd2"/>
<rect x="2060.3" y="1710.2" width="10.6" height="3.8" fill="#ffcdd2"/>
<rect x="2072.9" y="1709.5" width="10.6" height="1.0" fill="#26a69a"/>
<rect x="2085.5" y="1707.6" width="10.6" height="2.6" fill="#26a69a"/>
<rect x="2098.0" y="1710.2" width="10.6" height="1.5" fill="#ef5350"/>
<rect x="2110.6" y="1710.2" width="10.6" height="1.0" fill="#ffcdd2"/>
<rect x="2123.2" y="1710.2" width="10.6" height="2.7" fill="#ef5350"/>
<rect x="2135.8" y="1710.2" width="10.6" height="4.1" fill="#ef5350"/>
<rect x="2148.3" y="1707.5" width="10.6" height="2.7" fill="#26a69a"/>
<rect x="2160.9" y="1706.7" width="10.6" height="3.5" fill="#26a69a"/>
<rect x="2173.5" y="1701.0" width="10.6" height="9.2" fill="#26a69a"/>
<rect x="2186.0" y="1697.2" width="10.6" height="13.0" fill="#26a69a"/>
<rect x="2198.6" y="1692.7" width="10.6" height="17.5" fill="#26a69a"/>
<rect x="2211.2" y="1688.8" width="10.6" height="21.4" fill="#26a69a"/>
<rect x="2223.7" y="1694.4" width="10.6" height="15.8" fill="#b2dfdb"/>
<rect x="2236.3" y="1701.5" width="10.6" height="8.7" fill="#b2dfdb"/>
<rect x="2248.9" y="1710.2" width="10.6" height="2.5" fill="#ef5350"/>
<rect x="2261.4" y="1710.2" width="10.6" height="10.8" fill="#ef5350"/>
<rect x="2274.0" y="1710.2" width="10.6" height="15.6" fill="#ef5350"/>
<rect x="2286.6" y="1710.2" width="10.6" height="26.3" fill="#ef5350"/>
<rect x="2299.2" y="1710.2" width="10.6" height="25.1" fill="#ffcdd2"/>
<rect x="2311.7" y="1710.2" width="10.6" height="20.6" fill="#ffcdd2"/>
<rect x="2324.3" y="1710.2" width="10.6" height="16.2" fill="#ffcdd2"/>
<rect x="2336.9" y="1710.2" width="10.6" height="12.2" fill="#ffcdd2"/>
<rect x="2349.4" y="1710.2" width="10.6" height="10.3" fill="#ffcdd2"/>
<rect x="2362.0" y="1710.2" width="10.6" height="6.2" fill="#ffcdd2"/>
<rect x="2374.6" y="1710.2" width="10.6" height="2.3" fill="#ffcdd2"/>
<rect x="2387.1" y="1710.2" width="10.6" height="4.2" fill="#ef5350"/>
<rect x="2399.7" y="1710.2" width="10.6" height="2.7" fill="#ffcdd2"/>
<rect x="2412.3" y="1709.6" width="10.6" height="1.0" fill="#26a69a"/>
<rect x="2424.8" y="1710.2" width="10.6" height="1.6" fill="#ef5350"/>
<rect x="2437.4" y="1710.2" width="10.6" height="7.4" fill="#ef5350"/>
<rect x="2450.0" y="1710.2" width="10.6" height="9.0" fill="#ef5350"/>
<rect x="2462.6" y="1710.2" width="10.6" height="9.4" fill="#ef5350"/>
<rect x="2475.1" y="1710.2" width="10.6" height="3.0" fill="#ffcdd2"/>
<rect x="2487.7" y="1710.2" width="10.6" height="3.4" fill="#ef5350"/>
<rect x="2500.3" y="1710.2" width="10.6" height="8.7" fill="#ef5350"/>
<rect x="2512.8" y="1710.2" width="10.6" height="8.1" fill="#ffcdd2"/>
<rect x="2525.4" y="1710.2" width="10.6" height="6.8" fill="#ffcdd2"/>
<rect x="2538.0" y="1710.2" width="10.6" height="2.7" fill="#ffcdd2"/>
<rect x="2550.5" y="1708.2" width="10.6" height="2.0" fill="#26a69a"/>
<rect x="2563.1" y="1705.7" width="10.6" height="4.5" fill="#26a69a"/>
<rect x="2575.7" y="1703.5" width="10.6" height="6.7" fill="#26a69a"/>
<rect x="2588.2" y="1704.8" width="10.6" height="5.4" fill="#b2dfdb"/>
<rect x="2600.8" y="1702.6" width="10.6" height="7.6" fill="#26a69a"/>
<rect x="2613.4" y="1704.6" width="10.6" height="5.6" fill="#b2dfdb"/>
<rect x="2626.0" y="1696.2" width="10.6" height="14.0" fill="#26a69a"/>
<rect x="2638.5" y="1691.5" width="10.6" height="18.7" fill="#26a69a"/>
<rect x="2651.1" y="1684.5" width="10.6" height="25.7" fill="#26a69a"/>
<rect x="2663.7" y="1685.0" width="10.6" height="25.2" fill="#b2dfdb"/>
<rect x="2676.2" y="1690.8" width="10.6" height="19.4" fill="#b2dfdb"/>
<rect x="2688.8" y="1694.4" width="10.6" height="15.8" fill="#b2dfdb"/>
<rect x="2701.4" y="1692.5" width="10.6" height="17.7" fill="#26a69a"/>
<rect x="2713.9" y="1689.3" width="10.6" height="20.9" fill="#26a69a"/>
<rect x="2726.5" y="1686.5" width="10.6" height="23.7" fill="#26a69a"/>
<rect x="2739.1" y="1687.4" width="10.6" height="22.8" fill="#b2dfdb"/>
<rect x="2751.6" y="1690.6" width="10.6" height="19.6" fill="#b2dfdb"/>
<rect x="2764.2" y="1697.6" width="10.6" height="12.6" fill="#b2dfdb"/>
<rect x="2776.8" y="1704.1" width="10.6" height="6.1" fill="#b2dfdb"/>
<rect x="2789.4" y="1707.5" width="10.6" height="2.7" fill="#b2dfdb"/>
<rect x="2801.9" y="1709.7" width="10.6" height="1.0" fill="#b2dfdb"/>
<rect x="2814.5" y="1709.9" width="10.6" height="1.0" fill="#b2dfdb"/>
<rect x="2827.1" y="1710.2" width="10.6" height="1.0" fill="#b2dfdb"/>
<rect x="2839.6" y="1706.1" width="10.6" height="4.1" fill="#26a69a"/>
<rect x="2852.2" y="1695.0" width="10.6" height="15.2" fill="#26a69a"/>
<rect x="2864.8" y="1687.5" width="10.6" height="22.7" fill="#26a69a"/>
<rect x="2877.3" y="1692.2" width="10.6" height="18.0" fill="#b2dfdb"/>
<rect x="2889.9" y="1704.6" width="10.6" height="5.6" fill="#b2dfdb"/>
<rect x="2902.5" y="1710.2" width="10.6" height="2.3" fill="#ef5350"/>
<rect x="2915.0" y="1710.2" width="10.6" height="7.4" fill="#ef5350"/>
<rect x="2927.6" y="1710.2" width="10.6" height="10.4" fill="#ef5350"/>
<rect x="2940.2" y="1710.2" width="10.6" height="16.5" fill="#ef5350"/>
<rect x="2952.8" y="1710.2" width="10.6" height="13.8" fill="#ffcdd2"/>
<rect x="2965.3" y="1710.2" width="10.6" height="9.8" fill="#ffcdd2"/>
<rect x="2977.9" y="1710.2" width="10.6" height="6.1" fill="#ffcdd2"/>
<rect x="2990.5" y="1710.2" width="10.6" height="7.0" fill="#ef5350"/>
<rect x="3003.0" y="1710.2" width="10.6" height="13.7" fill="#ef5350"/>
<rect x="3015.6" y="1710.2" width="10.6" height="15.8" fill="#ef5350"/>
<rect x="3028.2" y="1710.2" width="10.6" height="20.4" fill="#ef5350"/>
<rect x="3040.7" y="1710.2" width="10.6" height="13.8" fill="#ffcdd2"/>
<rect x="3053.3" y="1710.2" width="10.6" height="15.6" fill="#ef5350"/>
<rect x="3065.9" y="1710.2" width="10.6" height="13.8" fill="#ffcdd2"/>
<rect x="3078.4" y="1710.2" width="10.6" height="17.3" fill="#ef5350"/>
<rect x="3091.0" y="1710.2" width="10.6" height="15.5" fill="#ffcdd2"/>
<rect x="3103.6" y="1710.2" width="10.6" height="21.2" fill="#ef5350"/>
<rect x="3116.2" y="1710.2" width="10.6" height="27.7" fill="#ef5350"/>
<rect x="3128.7" y="1710.2" width="10.6" height="37.3" fill="#ef5350"/>
<rect x="3141.3" y="1710.2" width="10.6" height="40.5" fill="#ef5350"/>
<rect x="3153.9" y="1710.2" width="10.6" height="34.3" fill="#ffcdd2"/>
<rect x="3166.4" y="1710.2" width="10.6" height="33.1" fill="#ffcdd2"/>
<rect x="3179.0" y="1710.2" width="10.6" height="22.9" fill="#ffcdd2"/>
<rect x="3191.6" y="1710.2" width="10.6" height="15.9" fill="#ffcdd2"/>
<rect x="3204.1" y="1710.2" width="10.6" height="12.7" fill="#ffcdd2"/>
<rect x="3216.7" y="1710.2" width="10.6" height="13.0" fill="#ef5350"/>
<rect x="3229.3" y="1710.2" width="10.6" height="7.1" fill="#ffcdd2"/>
<rect x="3241.8" y="1710.2" width="10.6" height="2.0" fill="#ffcdd2"/>
<rect x="3254.4" y="1706.4" width="10.6" height="3.8" fill="#26a69a"/>
<rect x="3267.0" y="1709.6" width="10.6" height="1.0" fill="#b2dfdb"/>
<rect x="3279.6" y="1710.2" width="10.6" height="3.1" fill="#ef5350"/>
<polyline points="16.9,1498.8 29.4,1512.0 42.0,1525.8 54.6,1526.3 67.1,1514.0 79.7,1509.6 92.3,1517.1 104.8,1525.2 117.4,1537.2 130.0,1551.2 142.6,1554.5 155.1,1555.6 167.7,1547.3 180.3,1542.2 192.8,1550.5 205.4,1568.5 218.0,1580.2 230.5,1601.3 243.1,1616.4 255.7,1627.6 268.2,1640.2 280.8,1656.5 293.4,1668.2 306.0,1678.1 318.5,1692.7 331.1,1762.2 343.7,1811.3 356.2,1846.8 368.8,1865.3 381.4,1873.6 393.9,1868.2 406.5,1861.2 419.1,1862.4 431.6,1854.8 444.2,1843.9 456.8,1823.3 469.4,1809.2 481.9,1795.6 494.5,1784.2 507.1,1773.7 519.6,1762.5 532.2,1745.4 544.8,1728.5 557.3,1714.5 569.9,1701.9 582.5,1690.1 595.0,1668.1 607.6,1660.1 620.2,1644.1 632.8,1636.0 645.3,1632.7 657.9,1631.3 670.5,1624.3 683.0,1617.1 695.6,1618.1 708.2,1618.9 720.7,1626.6 733.3,1631.6 745.9,1638.8 758.4,1639.3 771.0,1645.9 783.6,1654.3 796.2,1654.7 808.7,1653.2 821.3,1647.8 833.9,1646.6 846.4,1639.2 859.0,1634.6 871.6,1628.0 884.1,1630.0 896.7,1635.2 909.3,1637.0 921.8,1640.8 934.4,1649.8 947.0,1666.0 959.6,1673.7 972.1,1677.3 984.7,1671.4 997.3,1661.7 1009.8,1657.6 1022.4,1655.7 1035.0,1658.9 1047.5,1659.1 1060.1,1662.7 1072.7,1668.6 1085.2,1674.6 1097.8,1674.8 1110.4,1680.1 1123.0,1682.0 1135.5,1681.9 1148.1,1680.9 1160.7,1673.4 1173.2,1669.3 1185.8,1667.0 1198.4,1659.8 1210.9,1651.4 1223.5,1643.4 1236.1,1630.7 1248.6,1619.5 1261.2,1616.8 1273.8,1612.7 1286.4,1611.3 1298.9,1617.4 1311.5,1630.5 1324.1,1646.3 1336.6,1655.4 1349.2,1660.2 1361.8,1664.4 1374.3,1665.2 1386.9,1670.4 1399.5,1673.9 1412.0,1675.9 1424.6,1666.7 1437.2,1661.7 1449.7,1662.6 1462.3,1665.5 1474.9,1669.2 1487.5,1671.9 1500.0,1675.6 1512.6,1674.6 1525.2,1665.9 1537.7,1664.8 1550.3,1670.2 1562.9,1678.3 1575.4,1683.7 1588.0,1678.8 1600.6,1677.5 1613.1,1679.5 1625.7,1686.4 1638.3,1685.8 1650.9,1681.8 1663.4,1673.7 1676.0,1663.3 1688.6,1657.7 1701.1,1648.9 1713.7,1641.7 1726.3,1637.1 1738.8,1626.3 1751.4,1625.2 1764.0,1625.3 1776.5,1629.8 1789.1,1637.3 1801.7,1638.0 1814.3,1640.0 1826.8,1648.3 1839.4,1647.2 1852.0,1643.1 1864.5,1633.6 1877.1,1629.5 1889.7,1630.3 1902.2,1634.1 1914.8,1639.2 1927.4,1651.7 1939.9,1668.7 1952.5,1690.0 1965.1,1699.2 1977.7,1706.9 1990.2,1723.7 2002.8,1726.6 2015.4,1725.7 2027.9,1729.1 2040.5,1728.3 2053.1,1724.3 2065.6,1716.3 2078.2,1711.4 2090.8,1708.8 2103.3,1713.1 2115.9,1712.1 2128.5,1714.9 2141.1,1717.2 2153.6,1709.6 2166.2,1707.9 2178.8,1699.6 2191.3,1692.6 2203.9,1683.5 2216.5,1674.2 2229.0,1675.7 2241.6,1680.5 2254.2,1692.1 2266.7,1703.0 2279.3,1711.7 2291.9,1728.8 2304.5,1733.7 2317.0,1734.2 2329.6,1733.8 2342.2,1732.7 2354.7,1733.3 2367.3,1730.5 2379.9,1727.1 2392.4,1729.9 2405.0,1728.9 2417.6,1725.4 2430.1,1727.9 2442.7,1735.3 2455.3,1739.1 2467.9,1741.8 2480.4,1736.0 2493.0,1737.1 2505.6,1744.5 2518.1,1745.8 2530.7,1746.0 2543.3,1742.5 2555.8,1737.2 2568.4,1733.4 2581.0,1729.4 2593.5,1729.2 2606.1,1725.0 2618.7,1725.4 2631.3,1713.5 2643.8,1703.9 2656.4,1690.4 2669.0,1684.5 2681.5,1685.3 2694.1,1684.9 2706.7,1678.4 2719.2,1669.8 2731.8,1661.0 2744.4,1656.1 2756.9,1654.2 2769.5,1658.0 2782.1,1662.8 2794.7,1665.4 2807.2,1667.4 2819.8,1667.4 2832.4,1667.7 2844.9,1662.4 2857.5,1647.3 2870.1,1634.0 2882.6,1634.0 2895.2,1644.9 2907.8,1653.2 2920.3,1660.1 2932.9,1665.6 2945.5,1675.7 2958.1,1676.3 2970.6,1674.7 2983.2,1672.4 2995.8,1674.9 3008.3,1684.9 3020.9,1690.8 3033.5,1700.4 3046.0,1697.0 3058.6,1702.7 3071.2,1704.2 3083.7,1711.9 3096.3,1713.9 3108.9,1724.8 3121.5,1738.0 3134.0,1756.8 3146.6,1770.0 3159.2,1772.2 3171.7,1779.2 3184.3,1774.6 3196.9,1771.4 3209.4,1771.3 3222.0,1774.8 3234.6,1770.4 3247.1,1765.8 3259.7,1758.8 3272.3,1761.8 3284.9,1766.2" fill="none" stroke="#2196f3" stroke-width="2" stroke-linejoin="round"/>
<polyline points="16.9,1506.6 29.4,1507.7 42.0,1511.3 54.6,1514.3 67.1,1514.2 79.7,1513.3 92.3,1514.1 104.8,1516.3 117.4,1520.5 130.0,1526.6 142.6,1532.2 155.1,1536.9 167.7,1539.0 180.3,1539.6 192.8,1541.8 205.4,1547.1 218.0,1553.8 230.5,1563.3 243.1,1573.9 255.7,1584.6 268.2,1595.7 280.8,1607.9 293.4,1619.9 306.0,1631.6 318.5,1643.8 331.1,1667.5 343.7,1696.2 356.2,1726.4 368.8,1754.1 381.4,1778.0 393.9,1796.1 406.5,1809.1 419.1,1819.8 431.6,1826.8 444.2,1830.2 456.8,1828.8 469.4,1824.9 481.9,1819.0 494.5,1812.1 507.1,1804.4 519.6,1796.0 532.2,1785.9 544.8,1774.4 557.3,1762.4 569.9,1750.3 582.5,1738.3 595.0,1724.2 607.6,1711.4 620.2,1697.9 632.8,1685.6 645.3,1675.0 657.9,1666.2 670.5,1657.9 683.0,1649.7 695.6,1643.4 708.2,1638.5 720.7,1636.1 733.3,1635.2 745.9,1635.9 758.4,1636.6 771.0,1638.5 783.6,1641.6 796.2,1644.3 808.7,1646.0 821.3,1646.4 833.9,1646.4 846.4,1645.0 859.0,1642.9 871.6,1639.9 884.1,1638.0 896.7,1637.4 909.3,1637.3 921.8,1638.0 934.4,1640.4 947.0,1645.5 959.6,1651.1 972.1,1656.4 984.7,1659.4 997.3,1659.8 1009.8,1659.4 1022.4,1658.7 1035.0,1658.7 1047.5,1658.8 1060.1,1659.6 1072.7,1661.4 1085.2,1664.0 1097.8,1666.2 1110.4,1669.0 1123.0,1671.6 1135.5,1673.6 1148.1,1675.1 1160.7,1674.7 1173.2,1673.7 1185.8,1672.3 1198.4,1669.8 1210.9,1666.1 1223.5,1661.6 1236.1,1655.4 1248.6,1648.2 1261.2,1641.9 1273.8,1636.1 1286.4,1631.1 1298.9,1628.4 1311.5,1628.8 1324.1,1632.3 1336.6,1636.9 1349.2,1641.6 1361.8,1646.1 1374.3,1650.0 1386.9,1654.0 1399.5,1658.0 1412.0,1661.6 1424.6,1662.6 1437.2,1662.4 1449.7,1662.5 1462.3,1663.1 1474.9,1664.3 1487.5,1665.8 1500.0,1667.8 1512.6,1669.1 1525.2,1668.5 1537.7,1667.8 1550.3,1668.2 1562.9,1670.3 1575.4,1672.9 1588.0,1674.1 1600.6,1674.8 1613.1,1675.7 1625.7,1677.9 1638.3,1679.5 1650.9,1679.9 1663.4,1678.7 1676.0,1675.6 1688.6,1672.0 1701.1,1667.4 1713.7,1662.3 1726.3,1657.2 1738.8,1651.1 1751.4,1645.9 1764.0,1641.8 1776.5,1639.4 1789.1,1639.0 1801.7,1638.8 1814.3,1639.0 1826.8,1640.9 1839.4,1642.1 1852.0,1642.3 1864.5,1640.6 1877.1,1638.4 1889.7,1636.8 1902.2,1636.2 1914.8,1636.8 1927.4,1639.8 1939.9,1645.6 1952.5,1654.5 1965.1,1663.4 1977.7,1672.1 1990.2,1682.4 2002.8,1691.3 2015.4,1698.2 2027.9,1704.3 2040.5,1709.1 2053.1,1712.2 2065.6,1713.0 2078.2,1712.7 2090.8,1711.9 2103.3,1712.1 2115.9,1712.1 2128.5,1712.7 2141.1,1713.6 2153.6,1712.8 2166.2,1711.8 2178.8,1709.4 2191.3,1706.0 2203.9,1701.5 2216.5,1696.1 2229.0,1692.0 2241.6,1689.7 2254.2,1690.2 2266.7,1692.7 2279.3,1696.5 2291.9,1703.0 2304.5,1709.1 2317.0,1714.2 2329.6,1718.1 2342.2,1721.0 2354.7,1723.5 2367.3,1724.9 2379.9,1725.3 2392.4,1726.2 2405.0,1726.8 2417.6,1726.5 2430.1,1726.8 2442.7,1728.5 2455.3,1730.6 2467.9,1732.9 2480.4,1733.5 2493.0,1734.2 2505.6,1736.3 2518.1,1738.2 2530.7,1739.7 2543.3,1740.3 2555.8,1739.7 2568.4,1738.4 2581.0,1736.6 2593.5,1735.1 2606.1,1733.1 2618.7,1731.6 2631.3,1728.0 2643.8,1723.1 2656.4,1716.6 2669.0,1710.2 2681.5,1705.2 2694.1,1701.1 2706.7,1696.6 2719.2,1691.2 2731.8,1685.2 2744.4,1679.4 2756.9,1674.3 2769.5,1671.1 2782.1,1669.4 2794.7,1668.6 2807.2,1668.4 2819.8,1668.2 2832.4,1668.1 2844.9,1666.9 2857.5,1663.0 2870.1,1657.2 2882.6,1652.6 2895.2,1651.0 2907.8,1651.5 2920.3,1653.2 2932.9,1655.7 2945.5,1659.7 2958.1,1663.0 2970.6,1665.3 2983.2,1666.7 2995.8,1668.4 3008.3,1671.7 3020.9,1675.5 3033.5,1680.5 3046.0,1683.8 3058.6,1687.6 3071.2,1690.9 3083.7,1695.1 3096.3,1698.9 3108.9,1704.0 3121.5,1710.8 3134.0,1720.0 3146.6,1730.0 3159.2,1738.5 3171.7,1746.6 3184.3,1752.2 3196.9,1756.1 3209.4,1759.1 3222.0,1762.2 3234.6,1763.9 3247.1,1764.3 3259.7,1763.2 3272.3,1762.9 3284.9,1763.6" fill="none" stroke="#ff6d00" stroke-width="2" stroke-linejoin="round"/>
<circle cx="29.4" cy="1512.0" r="8.2" fill="#ff0000"/>
<circle cx="79.7" cy="1509.6" r="8.2" fill="#008000"/>
<circle cx="92.3" cy="1517.1" r="8.2" fill="#ff0000"/>
<circle cx="456.8" cy="1823.3" r="8.2" fill="#008000"/>
<circle cx="745.9" cy="1638.8" r="8.2" fill="#ff0000"/>
<circle cx="846.4" cy="1639.2" r="8.2" fill="#008000"/>
<circle cx="921.8" cy="1640.8" r="8.2" fill="#ff0000"/>
<circle cx="1009.8" cy="1657.6" r="8.2" fill="#008000"/>
<circle cx="1035.0" cy="1658.9" r="8.2" fill="#ff0000"/>
<circle cx="1160.7" cy="1673.4" r="8.2" fill="#008000"/>
<circle cx="1311.5" cy="1630.5" r="8.2" fill="#ff0000"/>
<circle cx="1437.2" cy="1661.7" r="8.2" fill="#008000"/>
<circle cx="1449.7" cy="1662.6" r="8.2" fill="#ff0000"/>
<circle cx="1525.2" cy="1665.9" r="8.2" fill="#008000"/>
<circle cx="1550.3" cy="1670.2" r="8.2" fill="#ff0000"/>
<circle cx="1663.4" cy="1673.7" r="8.2" fill="#008000"/>
<circle cx="1814.3" cy="1640.0" r="8.2" fill="#ff0000"/>
<circle cx="1864.5" cy="1633.6" r="8.2" fill="#008000"/>
<circle cx="1914.8" cy="1639.2" r="8.2" fill="#ff0000"/>
<circle cx="2078.2" cy="1711.4" r="8.2" fill="#008000"/>
<circle cx="2103.3" cy="1713.1" r="8.2" fill="#ff0000"/>
<circle cx="2153.6" cy="1709.6" r="8.2" fill="#008000"/>
<circle cx="2254.2" cy="1692.1" r="8.2" fill="#ff0000"/>
<circle cx="2417.6" cy="1725.4" r="8.2" fill="#008000"/>
<circle cx="2430.1" cy="1727.9" r="8.2" fill="#ff0000"/>
<circle cx="2555.8" cy="1737.2" r="8.2" fill="#008000"/>
<circle cx="2907.8" cy="1653.2" r="8.2" fill="#ff0000"/>
<circle cx="3259.7" cy="1758.8" r="8.2" fill="#008000"/>
<circle cx="3284.9" cy="1766.2" r="8.2" fill="#ff0000"/>
<line x1="21" y1="1711.0" x2="3352" y2="1711.0" stroke="#787b86" stroke-width="2" stroke-dasharray="2 4"/>
</g>
<text x="37.2" y="1491.0" font-size="24" fill="#131722" textLength="240.0" lengthAdjust="spacing">PPO (12, 26, 9, close)</text>
<text x="295.2" y="1491.0" font-size="24" fill="#ef5350" textLength="62.5" lengthAdjust="spacing">−0.05</text>
<text x="374.4" y="1491.0" font-size="24" fill="#2196f3" textLength="55.4" lengthAdjust="spacing">−1.01</text>
<text x="445.8" y="1491.0" font-size="24" fill="#ff6d00" textLength="62.7" lengthAdjust="spacing">−0.96</text>
<circle cx="532.4" cy="1483.8" r="5.9" fill="none" stroke="#131722" stroke-width="1.6"/><line x1="526.3" y1="1490.2" x2="538.6" y2="1477.5" stroke="#131722" stroke-width="1.8" stroke-linecap="round"/>
<text x="555.3" y="1491.0" font-size="24" fill="#ff0000" textLength="55.4" lengthAdjust="spacing">−1.01</text>
<text x="3376.8" y="1500.8" font-size="33.5" fill="#131722" textLength="64.1" lengthAdjust="spacing">4.00</text>
<text x="3376.8" y="1611.2" font-size="33.5" fill="#131722" textLength="64.1" lengthAdjust="spacing">2.00</text>
<text x="3376.8" y="1721.5" font-size="33.5" fill="#131722" textLength="64.1" lengthAdjust="spacing">0.00</text>
<text x="3376.8" y="1831.8" font-size="33.5" fill="#131722" textLength="83.4" lengthAdjust="spacing">−2.00</text>
<defs><clipPath id="ct"><rect x="21" y="1900" width="3333" height="85"/></clipPath></defs><g clip-path="url(#ct)">
<text x="1.5" y="1959.6" font-size="33" fill="#131722" textLength="55.9" lengthAdjust="spacing">Mar</text>
<text x="268.4" y="1959.6" font-size="33" fill="#131722" textLength="50.0" lengthAdjust="spacing">Apr</text>
<text x="502.5" y="1959.6" font-size="33" fill="#131722" textLength="59.4" lengthAdjust="spacing">May</text>
<text x="757.9" y="1959.6" font-size="33" fill="#131722" textLength="51.5" lengthAdjust="spacing">Jun</text>
<text x="1027.2" y="1959.6" font-size="33" fill="#131722" textLength="40.6" lengthAdjust="spacing">Jul</text>
<text x="1296.2" y="1959.6" font-size="33" fill="#131722" textLength="55.7" lengthAdjust="spacing">Aug</text>
<text x="1560.9" y="1959.6" font-size="33" fill="#131722" textLength="54.3" lengthAdjust="spacing">Sep</text>
<text x="1838.9" y="1959.6" font-size="33" fill="#131722" textLength="51.3" lengthAdjust="spacing">Oct</text>
<text x="2087.3" y="1959.6" font-size="33" fill="#131722" textLength="57.2" lengthAdjust="spacing">Nov</text>
<text x="2338.7" y="1959.6" font-size="33" fill="#131722" textLength="57.2" lengthAdjust="spacing">Dec</text>
<text x="2590.3" y="1959.6" font-size="33" fill="#131722" font-weight="bold" textLength="81.9" lengthAdjust="spacing">2026</text>
<text x="2868.4" y="1959.6" font-size="33" fill="#131722" textLength="53.5" lengthAdjust="spacing">Feb</text>
<text x="3081.0" y="1959.6" font-size="33" fill="#131722" textLength="55.9" lengthAdjust="spacing">Mar</text>
</g>
<g fill="#131313"><path d="M23.8,2030 H48 V2059.7 H36.2 V2041.6 H23.8 Z"/><circle cx="58" cy="2035.9" r="5.9"/><path d="M69.1,2030 H83.8 L72.3,2059.7 H58.3 Z"/></g>
<text x="98.1" y="2059.7" font-size="41.5" fill="#131313" font-weight="bold" textLength="241.6" lengthAdjust="spacing">TradingView</text>
</svg></body></html>
